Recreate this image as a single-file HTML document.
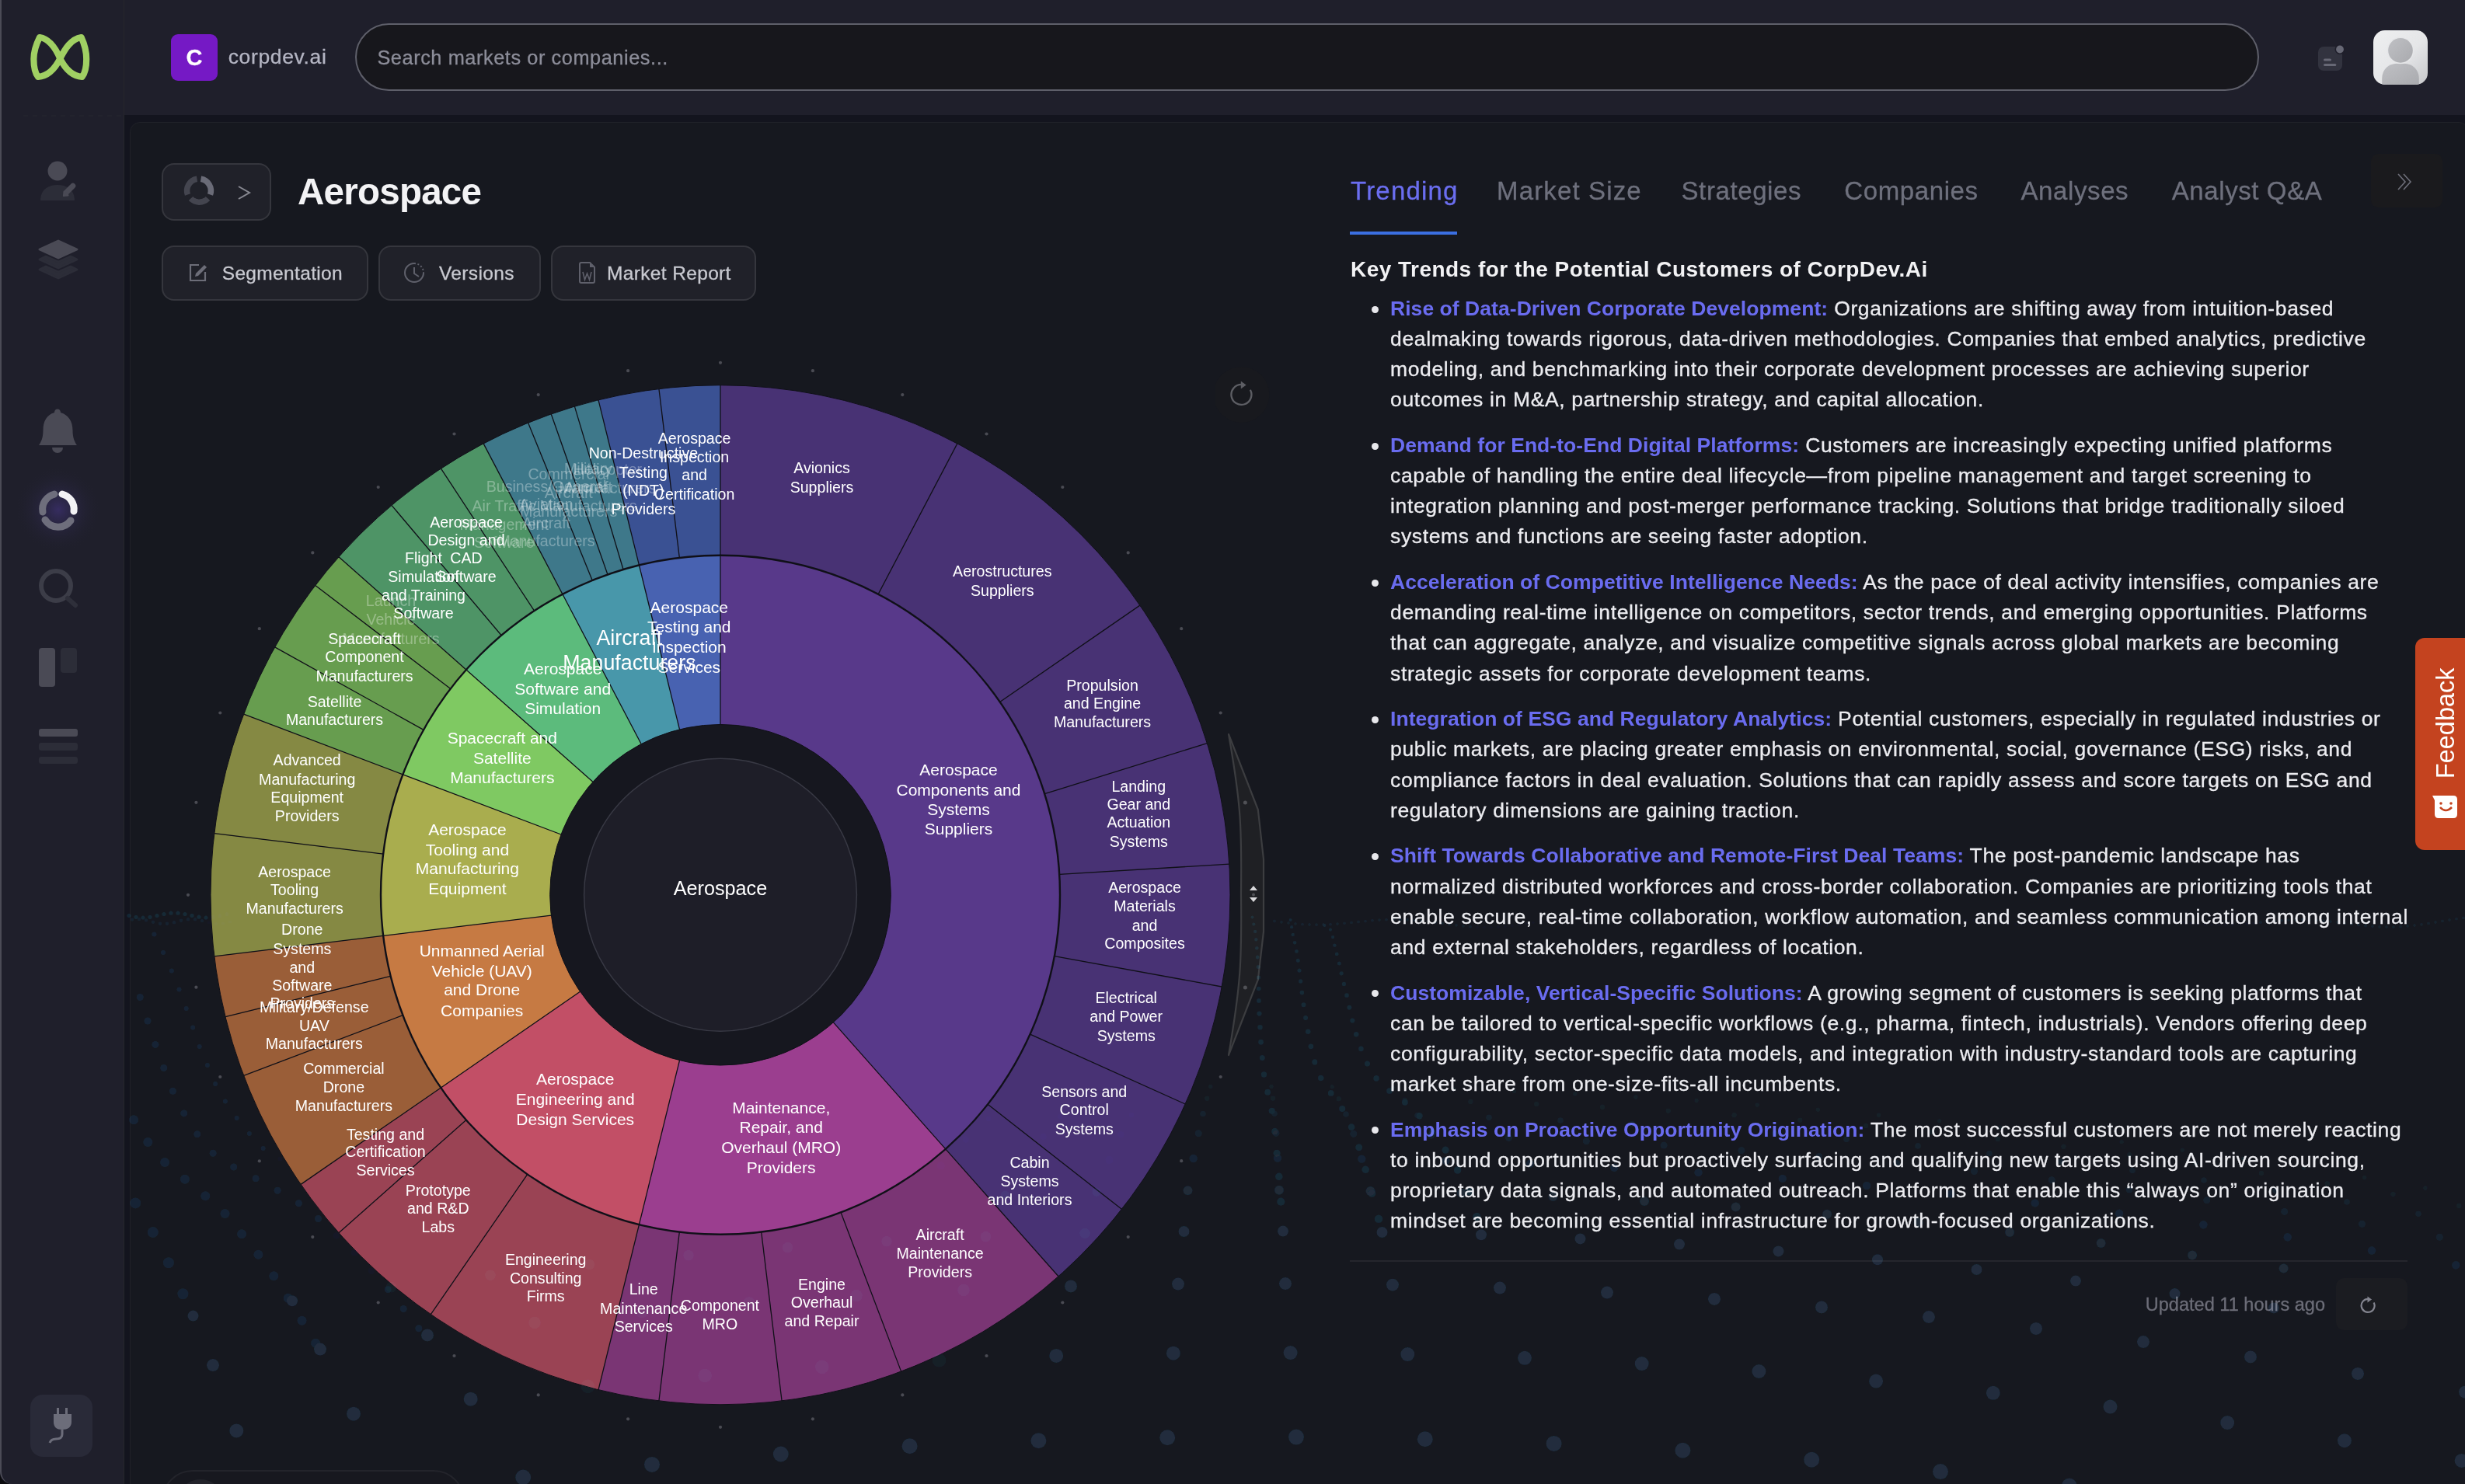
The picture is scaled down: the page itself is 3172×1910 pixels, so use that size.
<!DOCTYPE html><html><head><meta charset="utf-8"><style>*{box-sizing:border-box;margin:0;padding:0}
html,body{width:3172px;height:1910px;overflow:hidden;background:#0b0b0f}
body{position:relative;font-family:"Liberation Sans",sans-serif}
.abs{position:absolute}
.t{position:absolute;white-space:nowrap;-webkit-text-stroke:0.3px currentColor}
</style></head><body><div class="abs" style="left:0;top:0;width:3172px;height:1910px;background:#13141e;border-radius:0 0 0 14px"></div><div class="abs" style="left:0;top:0;width:160px;height:1910px;background:#1f1f2b;border-left:2px solid #4b4b56;border-right:1px solid #25272c;border-radius:0 0 0 16px"></div><div class="abs" style="left:160px;top:0;width:3012px;height:148px;background:#1f1f2b"></div><div class="abs" style="left:167px;top:157px;width:3010px;height:1800px;background:#16181f;border:1.5px solid #202128;border-radius:13px"></div><svg class="abs" style="left:0;top:0" width="160" height="1910">
<path d="M77.3,75.4 C72,63 64,50 51,48 C45,60 43.4,68 43.4,76 C43.4,86 45,94 49,99 C62,98 71,88 77.3,75.4 C83.6,63 91.6,50 104.6,48 C110.2,60 111.2,68 111.2,76 C111.2,86 109.6,94 105.6,99 C92.6,98 83.6,88 77.3,75.4 Z" fill="none" stroke="#a0d063" stroke-width="8.2" stroke-linejoin="round"/>
<line x1="30" y1="149" x2="160" y2="149" stroke="#25262f" stroke-width="1.5" stroke-dasharray="6 6"/>
<circle cx="74" cy="220" r="12.5" fill="#4a4a55"/>
<path d="M52,258 C52,244 62,238 74,238 C86,238 96,244 96,258 Z" fill="#2c2d38"/>
<line x1="85.5" y1="247.5" x2="93.8" y2="239.2" stroke="#4a4a55" stroke-width="7" stroke-linecap="round"/><path d="M82,252 L82.6,246.5 L87.5,251.3 Z" fill="#4a4a55" stroke="#4a4a55" stroke-width="2.2" stroke-linejoin="round"/>
<path d="M75,310 L99,321 L75,332 L51,321 Z" fill="#4a4a55" stroke="#4a4a55" stroke-width="3" stroke-linejoin="round"/>
<path d="M51,334 L75,345 L99,334 L91,330 L75,337 L59,330 Z" fill="#2c2d38" stroke="#2c2d38" stroke-width="3" stroke-linejoin="round"/>
<path d="M51,347 L75,358 L99,347 L91,343 L75,350 L59,343 Z" fill="#2c2d38" stroke="#2c2d38" stroke-width="3" stroke-linejoin="round"/>
<path d="M74,526.5 C71.5,526.5 70,528.5 70,531 C60,534 55.5,542 55.5,554 C55.5,563 53,569 50,573 L99,573 C96,569 93.5,563 93.5,554 C93.5,542 88,534 78,531 C78,528.5 76.5,526.5 74,526.5 Z" fill="#4a4a55"/>
<path d="M67,576 A7,7 0 0 0 81,576 Z" fill="#4a4a55"/>
<radialGradient id="glow" cx="50%" cy="50%" r="50%"><stop offset="0" stop-color="#3a2f6a" stop-opacity="0.85"/><stop offset="0.45" stop-color="#2c2848" stop-opacity="0.5"/><stop offset="1" stop-color="#1f1f2b" stop-opacity="0"/></radialGradient>
<circle cx="75" cy="656" r="56" fill="url(#glow)"/>
<g fill="none" stroke-width="9" stroke-linecap="round">
<path d="M80,636 A20,20 0 0 1 95,658" stroke="#f2f2f4"/>
<path d="M91,670 A20,20 0 0 1 58,669" stroke="#6e6e7c"/>
<path d="M55,659 A20,20 0 0 1 70,636" stroke="#6e6e7c"/>
</g>
<circle cx="72" cy="754" r="19" fill="none" stroke="#3c3d48" stroke-width="6"/>
<line x1="87" y1="770" x2="97" y2="779" stroke="#2e2f3a" stroke-width="6" stroke-linecap="round"/>
<rect x="50" y="834" width="21" height="50" rx="4" fill="#4a4a55"/>
<rect x="78" y="834" width="21" height="32" rx="4" fill="#2c2d38"/>
<rect x="50" y="938" width="50" height="10" rx="3" fill="#4a4a55"/>
<rect x="50" y="956" width="50" height="10" rx="3" fill="#2c2d38"/>
<rect x="50" y="974" width="50" height="9" rx="3" fill="#2c2d38"/>
<rect x="39" y="1795" width="80" height="80" rx="16" fill="#292a38"/>
<g fill="#6c6d7a"><rect x="73" y="1812" width="3" height="10"/><rect x="84" y="1812" width="3" height="10"/>
<path d="M69,1820 L92,1820 L92,1830 C92,1837 87,1840 80,1840 C73,1840 69,1837 69,1830 Z"/></g>
<path d="M80,1840 L80,1846 C80,1851 76,1852 72,1852 C67,1852 65,1854 64,1857" fill="none" stroke="#6c6d7a" stroke-width="3"/>
</svg><div class="abs" style="left:220px;top:44px;width:60px;height:60px;background:#7519c5;border-radius:9px"></div><div class="t" style="left:-750.0px;width:2000px;text-align:center;top:55.90px;font-size:29px;line-height:37.7px;color:#ffffff;font-weight:700;letter-spacing:0px;">C</div><div class="t" style="left:293.7px;top:55.59px;font-size:26.5px;line-height:34.45px;color:#b4b5c3;font-weight:400;letter-spacing:0.65px;">corpdev.ai</div><div class="abs" style="left:457px;top:30px;width:2450px;height:87px;background:#17171c;border:2px solid #5e5f6a;border-radius:44px"></div><div class="t" style="left:485.4px;top:57.79px;font-size:25.3px;line-height:32.89px;color:#8c8d99;font-weight:400;letter-spacing:0.58px;">Search markets or companies...</div><svg class="abs" style="left:2975px;top:52px" width="50" height="50">
<rect x="8" y="8" width="31" height="31" rx="7" fill="#32333f"/>
<rect x="15" y="23.5" width="10" height="3" rx="1.5" fill="#676875"/><rect x="15" y="30" width="16.3" height="3" rx="1.5" fill="#676875"/>
<circle cx="36" cy="11.5" r="6.5" fill="#1f1f2b"/><circle cx="36" cy="11.5" r="4.9" fill="#676875"/>
</svg><svg class="abs" style="left:3054px;top:39px" width="70" height="70">
<defs><linearGradient id="av" x1="0" y1="0" x2="1" y2="1"><stop offset="0" stop-color="#eeeff0"/><stop offset="0.55" stop-color="#e5e6e8"/><stop offset="1" stop-color="#c6c7ca"/></linearGradient>
<linearGradient id="avb" x1="0" y1="0" x2="1" y2="1"><stop offset="0" stop-color="#bfc0c4"/><stop offset="1" stop-color="#a9aaae"/></linearGradient>
<clipPath id="avc"><rect x="0" y="0" width="70" height="70" rx="15"/></clipPath></defs>
<rect x="0" y="0" width="70" height="70" rx="15" fill="url(#av)"/>
<g clip-path="url(#avc)"><path d="M11.2,71 L11.2,62 C11.2,50 20,43 30,42.8 L40,42.8 C50,43 58.8,50 58.8,62 L58.8,71 Z" fill="url(#avb)"/>
<circle cx="35" cy="25.9" r="17.3" fill="#e6e7e9"/><circle cx="35" cy="25.9" r="15.8" fill="url(#avb)"/></g>
</svg><div class="abs" style="left:208px;top:210px;width:141px;height:74px;background:#202129;border:2px solid #35363d;border-radius:16px"></div><svg class="abs" style="left:230px;top:220px" width="60" height="55"><g fill="none" stroke-width="7.5">
<path d="M28.5,10.3 A15.3,15.3 0 0 1 40.5,30.5" stroke="#6a6b77"/>
<path d="M37.5,35.5 A15.3,15.3 0 0 1 15.5,35.5" stroke="#44454f"/>
<path d="M11.5,30.5 A15.3,15.3 0 0 1 23.5,10.3" stroke="#44454f"/>
</g></svg><svg class="abs" style="left:300px;top:236px" width="30" height="26"><path d="M7,4 L21,12 L7,20" fill="none" stroke="#888992" stroke-width="2"/></svg><div class="t" style="left:383.0px;top:215.57px;font-size:47.5px;line-height:61.75px;color:#f3f3f5;font-weight:700;letter-spacing:-0.75px;-webkit-text-stroke:0;">Aerospace</div><div class="abs" style="left:208px;top:316px;width:266px;height:71px;background:#202129;border:2px solid #35363d;border-radius:16px"></div><div class="t" style="left:285.7px;top:335.79px;font-size:24.5px;line-height:31.85px;color:#c8c9d0;font-weight:400;letter-spacing:0.35px;">Segmentation</div><div class="abs" style="left:487px;top:316px;width:209px;height:71px;background:#202129;border:2px solid #35363d;border-radius:16px"></div><div class="t" style="left:565.0px;top:335.79px;font-size:24.5px;line-height:31.85px;color:#c8c9d0;font-weight:400;letter-spacing:0.35px;">Versions</div><div class="abs" style="left:709px;top:316px;width:264px;height:71px;background:#202129;border:2px solid #35363d;border-radius:16px"></div><div class="t" style="left:781.0px;top:335.79px;font-size:24.5px;line-height:31.85px;color:#c8c9d0;font-weight:400;letter-spacing:0.35px;">Market Report</div><svg class="abs" style="left:240px;top:335px" width="30" height="30"><path d="M16,6 L5,6 L5,26 L24,26 L24,15" fill="none" stroke="#6c6d78" stroke-width="2.2"/>
<path d="M11,21 L12,17 L23,6 L26,9 L15,20 Z" fill="#6c6d78"/></svg><svg class="abs" style="left:518px;top:336px" width="32" height="30"><path d="M15,3 A12,12 0 1 0 27,15" fill="none" stroke="#5f606b" stroke-width="2"/>
<path d="M15,3 A12,12 0 0 1 27,15" fill="none" stroke="#5f606b" stroke-width="2" stroke-dasharray="2 2.5"/>
<path d="M15,8 L15,16 L21,20" fill="none" stroke="#5f606b" stroke-width="2"/></svg><svg class="abs" style="left:743px;top:336px" width="26" height="30"><path d="M5,2 L16,2 L22,8 L22,26 Q22,28 20,28 L5,28 Q3,28 3,26 L3,4 Q3,2 5,2 Z" fill="none" stroke="#5f606b" stroke-width="2"/>
<path d="M16,2 L22,8 L16,8 Z" fill="#5f606b"/><path d="M7,14 L9.5,24 L12.5,16 L15.5,24 L18,14" fill="none" stroke="#5f606b" stroke-width="1.6"/></svg><svg class="abs" style="left:200px;top:440px" width="1500" height="1470" viewBox="200 440 1500 1470"><circle cx="927.0" cy="1151.75" r="219.3" fill="#16171f"/><path d="M927.00,714.75A437.0,437.0 0 0 1 1216.78,1478.85L1072.42,1315.90A219.3,219.3 0 0 0 927.00,932.45Z" fill="#58398a"/><path d="M927.00,495.75A656.0,656.0 0 0 1 1231.86,570.89L1130.08,764.81A437.0,437.0 0 0 0 927.00,714.75Z" fill="#483274"/><path d="M1231.86,570.89A656.0,656.0 0 0 1 1466.88,779.10L1286.64,903.51A437.0,437.0 0 0 0 1130.08,764.81Z" fill="#483274"/><path d="M1466.88,779.10A656.0,656.0 0 0 1 1553.30,956.59L1344.21,1021.74A437.0,437.0 0 0 0 1286.64,903.51Z" fill="#483274"/><path d="M1553.30,956.59A656.0,656.0 0 0 1 1581.80,1112.14L1363.20,1125.36A437.0,437.0 0 0 0 1344.21,1021.74Z" fill="#483274"/><path d="M1581.80,1112.14A656.0,656.0 0 0 1 1572.25,1270.00L1356.84,1230.52A437.0,437.0 0 0 0 1363.20,1125.36Z" fill="#483274"/><path d="M1572.25,1270.00A656.0,656.0 0 0 1 1525.21,1420.98L1325.50,1331.10A437.0,437.0 0 0 0 1356.84,1230.52Z" fill="#483274"/><path d="M1525.21,1420.98A656.0,656.0 0 0 1 1443.39,1556.32L1271.00,1421.26A437.0,437.0 0 0 0 1325.50,1331.10Z" fill="#483274"/><path d="M1443.39,1556.32A656.0,656.0 0 0 1 1362.01,1642.77L1216.78,1478.85A437.0,437.0 0 0 0 1271.00,1421.26Z" fill="#483274"/><path d="M1216.78,1478.85A437.0,437.0 0 0 1 822.42,1576.05L874.52,1364.68A219.3,219.3 0 0 0 1072.42,1315.90Z" fill="#9b3e8f"/><path d="M1362.01,1642.77A656.0,656.0 0 0 1 1159.62,1765.12L1081.96,1560.35A437.0,437.0 0 0 0 1216.78,1478.85Z" fill="#7a3574"/><path d="M1159.62,1765.12A656.0,656.0 0 0 1 1006.07,1802.97L979.67,1585.56A437.0,437.0 0 0 0 1081.96,1560.35Z" fill="#7a3574"/><path d="M1006.07,1802.97A656.0,656.0 0 0 1 847.93,1802.97L874.33,1585.56A437.0,437.0 0 0 0 979.67,1585.56Z" fill="#7a3574"/><path d="M847.93,1802.97A656.0,656.0 0 0 1 770.01,1788.69L822.42,1576.05A437.0,437.0 0 0 0 874.33,1585.56Z" fill="#7a3574"/><path d="M822.42,1576.05A437.0,437.0 0 0 1 567.36,1399.99L746.52,1276.33A219.3,219.3 0 0 0 874.52,1364.68Z" fill="#c24f66"/><path d="M770.01,1788.69A656.0,656.0 0 0 1 554.35,1691.63L678.76,1511.39A437.0,437.0 0 0 0 822.42,1576.05Z" fill="#9a4354"/><path d="M554.35,1691.63A656.0,656.0 0 0 1 435.98,1586.76L599.90,1441.53A437.0,437.0 0 0 0 678.76,1511.39Z" fill="#9a4354"/><path d="M435.98,1586.76A656.0,656.0 0 0 1 387.12,1524.40L567.36,1399.99A437.0,437.0 0 0 0 599.90,1441.53Z" fill="#9a4354"/><path d="M567.36,1399.99A437.0,437.0 0 0 1 493.19,1204.42L709.30,1178.18A219.3,219.3 0 0 0 746.52,1276.33Z" fill="#c67a43"/><path d="M387.12,1524.40A656.0,656.0 0 0 1 313.63,1384.37L518.40,1306.71A437.0,437.0 0 0 0 567.36,1399.99Z" fill="#9a5e38"/><path d="M313.63,1384.37A656.0,656.0 0 0 1 290.06,1308.74L502.70,1256.33A437.0,437.0 0 0 0 518.40,1306.71Z" fill="#9a5e38"/><path d="M290.06,1308.74A656.0,656.0 0 0 1 275.78,1230.82L493.19,1204.42A437.0,437.0 0 0 0 502.70,1256.33Z" fill="#9a5e38"/><path d="M493.19,1204.42A437.0,437.0 0 0 1 518.40,996.79L721.95,1073.99A219.3,219.3 0 0 0 709.30,1178.18Z" fill="#a9ad4e"/><path d="M275.78,1230.82A656.0,656.0 0 0 1 275.78,1072.68L493.19,1099.08A437.0,437.0 0 0 0 493.19,1204.42Z" fill="#858943"/><path d="M275.78,1072.68A656.0,656.0 0 0 1 313.63,919.13L518.40,996.79A437.0,437.0 0 0 0 493.19,1099.08Z" fill="#858943"/><path d="M518.40,996.79A437.0,437.0 0 0 1 599.90,861.97L762.85,1006.33A219.3,219.3 0 0 0 721.95,1073.99Z" fill="#7fc962"/><path d="M313.63,919.13A656.0,656.0 0 0 1 353.68,832.94L545.08,939.38A437.0,437.0 0 0 0 518.40,996.79Z" fill="#679d4f"/><path d="M353.68,832.94A656.0,656.0 0 0 1 405.76,753.45L579.77,886.42A437.0,437.0 0 0 0 545.08,939.38Z" fill="#679d4f"/><path d="M405.76,753.45A656.0,656.0 0 0 1 435.98,716.74L599.90,861.97A437.0,437.0 0 0 0 579.77,886.42Z" fill="#679d4f"/><path d="M599.90,861.97A437.0,437.0 0 0 1 723.92,764.81L825.09,957.57A219.3,219.3 0 0 0 762.85,1006.33Z" fill="#5cbb7c"/><path d="M435.98,716.74A656.0,656.0 0 0 1 503.98,650.36L645.20,817.74A437.0,437.0 0 0 0 599.90,861.97Z" fill="#4e9466"/><path d="M503.98,650.36A656.0,656.0 0 0 1 567.50,603.03L687.52,786.21A437.0,437.0 0 0 0 645.20,817.74Z" fill="#4e9466"/><path d="M567.50,603.03A656.0,656.0 0 0 1 622.14,570.89L723.92,764.81A437.0,437.0 0 0 0 687.52,786.21Z" fill="#4e9466"/><path d="M723.92,764.81A437.0,437.0 0 0 1 822.42,727.45L874.52,938.82A219.3,219.3 0 0 0 825.09,957.57Z" fill="#4897aa"/><path d="M622.14,570.89A656.0,656.0 0 0 1 679.63,544.18L762.21,747.01A437.0,437.0 0 0 0 723.92,764.81Z" fill="#3e788a"/><path d="M679.63,544.18A656.0,656.0 0 0 1 709.27,532.94L781.96,739.52A437.0,437.0 0 0 0 762.21,747.01Z" fill="#3e788a"/><path d="M709.27,532.94A656.0,656.0 0 0 1 739.42,523.14L802.04,733.00A437.0,437.0 0 0 0 781.96,739.52Z" fill="#3e788a"/><path d="M739.42,523.14A656.0,656.0 0 0 1 770.01,514.81L822.42,727.45A437.0,437.0 0 0 0 802.04,733.00Z" fill="#3e788a"/><path d="M822.42,727.45A437.0,437.0 0 0 1 927.00,714.75L927.00,932.45A219.3,219.3 0 0 0 874.52,938.82Z" fill="#4862b1"/><path d="M770.01,514.81A656.0,656.0 0 0 1 847.93,500.53L874.33,717.94A437.0,437.0 0 0 0 822.42,727.45Z" fill="#3a5193"/><path d="M847.93,500.53A656.0,656.0 0 0 1 927.00,495.75L927.00,714.75A437.0,437.0 0 0 0 874.33,717.94Z" fill="#3a5193"/><line x1="927.00" y1="714.75" x2="927.00" y2="495.75" stroke="#101018" stroke-width="1.3"/><line x1="1130.08" y1="764.81" x2="1231.86" y2="570.89" stroke="#101018" stroke-width="1.3"/><line x1="1286.64" y1="903.51" x2="1466.88" y2="779.10" stroke="#101018" stroke-width="1.3"/><line x1="1344.21" y1="1021.74" x2="1553.30" y2="956.59" stroke="#101018" stroke-width="1.3"/><line x1="1363.20" y1="1125.36" x2="1581.80" y2="1112.14" stroke="#101018" stroke-width="1.3"/><line x1="1356.84" y1="1230.52" x2="1572.25" y2="1270.00" stroke="#101018" stroke-width="1.3"/><line x1="1325.50" y1="1331.10" x2="1525.21" y2="1420.98" stroke="#101018" stroke-width="1.3"/><line x1="1271.00" y1="1421.26" x2="1443.39" y2="1556.32" stroke="#101018" stroke-width="1.3"/><line x1="927.00" y1="932.45" x2="927.00" y2="714.75" stroke="#101018" stroke-width="1.3"/><line x1="1216.78" y1="1478.85" x2="1362.01" y2="1642.77" stroke="#101018" stroke-width="1.3"/><line x1="1081.96" y1="1560.35" x2="1159.62" y2="1765.12" stroke="#101018" stroke-width="1.3"/><line x1="979.67" y1="1585.56" x2="1006.07" y2="1802.97" stroke="#101018" stroke-width="1.3"/><line x1="874.33" y1="1585.56" x2="847.93" y2="1802.97" stroke="#101018" stroke-width="1.3"/><line x1="1072.42" y1="1315.90" x2="1216.78" y2="1478.85" stroke="#101018" stroke-width="1.3"/><line x1="822.42" y1="1576.05" x2="770.01" y2="1788.69" stroke="#101018" stroke-width="1.3"/><line x1="678.76" y1="1511.39" x2="554.35" y2="1691.63" stroke="#101018" stroke-width="1.3"/><line x1="599.90" y1="1441.53" x2="435.98" y2="1586.76" stroke="#101018" stroke-width="1.3"/><line x1="874.52" y1="1364.68" x2="822.42" y2="1576.05" stroke="#101018" stroke-width="1.3"/><line x1="567.36" y1="1399.99" x2="387.12" y2="1524.40" stroke="#101018" stroke-width="1.3"/><line x1="518.40" y1="1306.71" x2="313.63" y2="1384.37" stroke="#101018" stroke-width="1.3"/><line x1="502.70" y1="1256.33" x2="290.06" y2="1308.74" stroke="#101018" stroke-width="1.3"/><line x1="746.52" y1="1276.33" x2="567.36" y2="1399.99" stroke="#101018" stroke-width="1.3"/><line x1="493.19" y1="1204.42" x2="275.78" y2="1230.82" stroke="#101018" stroke-width="1.3"/><line x1="493.19" y1="1099.08" x2="275.78" y2="1072.68" stroke="#101018" stroke-width="1.3"/><line x1="709.30" y1="1178.18" x2="493.19" y2="1204.42" stroke="#101018" stroke-width="1.3"/><line x1="518.40" y1="996.79" x2="313.63" y2="919.13" stroke="#101018" stroke-width="1.3"/><line x1="545.08" y1="939.38" x2="353.68" y2="832.94" stroke="#101018" stroke-width="1.3"/><line x1="579.77" y1="886.42" x2="405.76" y2="753.45" stroke="#101018" stroke-width="1.3"/><line x1="721.95" y1="1073.99" x2="518.40" y2="996.79" stroke="#101018" stroke-width="1.3"/><line x1="599.90" y1="861.97" x2="435.98" y2="716.74" stroke="#101018" stroke-width="1.3"/><line x1="645.20" y1="817.74" x2="503.98" y2="650.36" stroke="#101018" stroke-width="1.3"/><line x1="687.52" y1="786.21" x2="567.50" y2="603.03" stroke="#101018" stroke-width="1.3"/><line x1="762.85" y1="1006.33" x2="599.90" y2="861.97" stroke="#101018" stroke-width="1.3"/><line x1="723.92" y1="764.81" x2="622.14" y2="570.89" stroke="#101018" stroke-width="1.3"/><line x1="762.21" y1="747.01" x2="679.63" y2="544.18" stroke="#101018" stroke-width="1.3"/><line x1="781.96" y1="739.52" x2="709.27" y2="532.94" stroke="#101018" stroke-width="1.3"/><line x1="802.04" y1="733.00" x2="739.42" y2="523.14" stroke="#101018" stroke-width="1.3"/><line x1="825.09" y1="957.57" x2="723.92" y2="764.81" stroke="#101018" stroke-width="1.3"/><line x1="822.42" y1="727.45" x2="770.01" y2="514.81" stroke="#101018" stroke-width="1.3"/><line x1="874.33" y1="717.94" x2="847.93" y2="500.53" stroke="#101018" stroke-width="1.3"/><line x1="874.52" y1="938.82" x2="822.42" y2="727.45" stroke="#101018" stroke-width="1.3"/><circle cx="927.0" cy="1151.75" r="437.0" fill="none" stroke="#101018" stroke-width="2.4"/><circle cx="927.0" cy="1151.75" r="656.0" fill="none" stroke="#101018" stroke-width="1"/><circle cx="927.0" cy="1151.75" r="219.3" fill="none" stroke="#101018" stroke-width="1"/><circle cx="927.0" cy="1151.75" r="175.4" fill="#1e1e28" stroke="#383944" stroke-width="1.5"/><circle cx="927.0" cy="466.8" r="2.1" fill="#4a4b53"/><circle cx="1045.9" cy="477.2" r="2.1" fill="#4a4b53"/><circle cx="1161.3" cy="508.1" r="2.1" fill="#4a4b53"/><circle cx="1269.5" cy="558.5" r="2.1" fill="#4a4b53"/><circle cx="1367.3" cy="627.0" r="2.1" fill="#4a4b53"/><circle cx="1451.7" cy="711.4" r="2.1" fill="#4a4b53"/><circle cx="1520.2" cy="809.2" r="2.1" fill="#4a4b53"/><circle cx="1570.7" cy="917.5" r="2.1" fill="#4a4b53"/><circle cx="1570.7" cy="1386.0" r="2.1" fill="#4a4b53"/><circle cx="1520.2" cy="1494.2" r="2.1" fill="#4a4b53"/><circle cx="1451.7" cy="1592.1" r="2.1" fill="#4a4b53"/><circle cx="1367.3" cy="1676.5" r="2.1" fill="#4a4b53"/><circle cx="1269.5" cy="1745.0" r="2.1" fill="#4a4b53"/><circle cx="1161.3" cy="1795.4" r="2.1" fill="#4a4b53"/><circle cx="1045.9" cy="1826.3" r="2.1" fill="#4a4b53"/><circle cx="927.0" cy="1836.8" r="2.1" fill="#4a4b53"/><circle cx="808.1" cy="1826.3" r="2.1" fill="#4a4b53"/><circle cx="692.7" cy="1795.4" r="2.1" fill="#4a4b53"/><circle cx="584.5" cy="1745.0" r="2.1" fill="#4a4b53"/><circle cx="486.7" cy="1676.5" r="2.1" fill="#4a4b53"/><circle cx="402.3" cy="1592.1" r="2.1" fill="#4a4b53"/><circle cx="333.8" cy="1494.3" r="2.1" fill="#4a4b53"/><circle cx="283.3" cy="1386.0" r="2.1" fill="#4a4b53"/><circle cx="252.4" cy="1270.7" r="2.1" fill="#4a4b53"/><circle cx="242.0" cy="1151.8" r="2.1" fill="#4a4b53"/><circle cx="252.4" cy="1032.8" r="2.1" fill="#4a4b53"/><circle cx="283.3" cy="917.5" r="2.1" fill="#4a4b53"/><circle cx="333.8" cy="809.2" r="2.1" fill="#4a4b53"/><circle cx="402.3" cy="711.4" r="2.1" fill="#4a4b53"/><circle cx="486.7" cy="627.0" r="2.1" fill="#4a4b53"/><circle cx="584.5" cy="558.5" r="2.1" fill="#4a4b53"/><circle cx="692.7" cy="508.1" r="2.1" fill="#4a4b53"/><circle cx="808.1" cy="477.2" r="2.1" fill="#4a4b53"/><g font-family="Liberation Sans, sans-serif" text-anchor="middle"><g font-size="19.6" fill="#ffffff" fill-opacity="0.32"><text x="503.0" y="780.4">Launch</text><text x="503.0" y="804.2">Vehicle</text><text x="503.0" y="828.5">Manufacturers</text></g><g font-size="19.6" fill="#ffffff" fill-opacity="0.32"><text x="648.7" y="658.1">Air Traffic</text><text x="648.7" y="681.6">Management</text><text x="648.7" y="705.2">Software</text></g><g font-size="19.6" fill="#ffffff" fill-opacity="0.32"><text x="703.0" y="632.6">Business/General</text><text x="703.0" y="656.1">Aviation</text><text x="703.0" y="679.7">Aircraft</text><text x="703.0" y="703.3">Manufacturers</text></g><g font-size="19.6" fill="#ffffff" fill-opacity="0.32"><text x="731.7" y="617.3">Commercial</text><text x="731.7" y="640.9">Aircraft</text><text x="731.7" y="664.5">Manufacturers</text></g><g font-size="19.6" fill="#ffffff" fill-opacity="0.32"><text x="757.0" y="609.7">Military</text><text x="757.0" y="633.6">Aircraft</text><text x="757.0" y="657.6">Manufacturers</text></g><g font-size="19.6" fill="#ffffff" fill-opacity="0.32"><text x="782.0" y="611.1">Helicopter</text><text x="782.0" y="635.1">Manufacturers</text></g><g font-size="19.6" fill="#ffffff"><text x="1057.5" y="609.4">Avionics</text><text x="1057.5" y="633.7">Suppliers</text></g><g font-size="19.6" fill="#ffffff"><text x="1289.8" y="742.3">Aerostructures</text><text x="1289.8" y="766.6">Suppliers</text></g><g font-size="19.6" fill="#ffffff"><text x="1418.5" y="889.4">Propulsion</text><text x="1418.5" y="912.3">and Engine</text><text x="1418.5" y="936.1">Manufacturers</text></g><g font-size="19.6" fill="#ffffff"><text x="1465.3" y="1018.6">Landing</text><text x="1465.3" y="1041.5">Gear and</text><text x="1465.3" y="1065.4">Actuation</text><text x="1465.3" y="1089.6">Systems</text></g><g font-size="19.6" fill="#ffffff"><text x="1473.0" y="1149.4">Aerospace</text><text x="1473.0" y="1173.2">Materials</text><text x="1473.0" y="1197.5">and</text><text x="1473.0" y="1221.3">Composites</text></g><g font-size="19.6" fill="#ffffff"><text x="1449.2" y="1291.4">Electrical</text><text x="1449.2" y="1315.3">and Power</text><text x="1449.2" y="1339.5">Systems</text></g><g font-size="19.6" fill="#ffffff"><text x="1395.2" y="1411.5">Sensors and</text><text x="1395.2" y="1435.3">Control</text><text x="1395.2" y="1459.6">Systems</text></g><g font-size="19.6" fill="#ffffff"><text x="1325.0" y="1503.1">Cabin</text><text x="1325.0" y="1527.4">Systems</text><text x="1325.0" y="1551.2">and Interiors</text></g><g font-size="19.6" fill="#ffffff"><text x="1209.6" y="1596.1">Aircraft</text><text x="1209.6" y="1620.4">Maintenance</text><text x="1209.6" y="1644.3">Providers</text></g><g font-size="19.6" fill="#ffffff"><text x="1057.5" y="1660.3">Engine</text><text x="1057.5" y="1683.2">Overhaul</text><text x="1057.5" y="1707.1">and Repair</text></g><g font-size="19.6" fill="#ffffff"><text x="926.4" y="1687.3">Component</text><text x="926.4" y="1710.9">MRO</text></g><g font-size="19.6" fill="#ffffff"><text x="828.2" y="1666.3">Line</text><text x="828.2" y="1690.5">Maintenance</text><text x="828.2" y="1714.4">Services</text></g><g font-size="19.6" fill="#ffffff"><text x="702.2" y="1627.8">Engineering</text><text x="702.2" y="1651.6">Consulting</text><text x="702.2" y="1675.4">Firms</text></g><g font-size="19.6" fill="#ffffff"><text x="563.8" y="1538.9">Prototype</text><text x="563.8" y="1562.2">and R&amp;D</text><text x="563.8" y="1585.6">Labs</text></g><g font-size="19.6" fill="#ffffff"><text x="496.0" y="1466.5">Testing and</text><text x="496.0" y="1489.4">Certification</text><text x="496.0" y="1513.2">Services</text></g><g font-size="19.6" fill="#ffffff"><text x="442.4" y="1382.2">Commercial</text><text x="442.4" y="1406.4">Drone</text><text x="442.4" y="1430.3">Manufacturers</text></g><g font-size="19.6" fill="#ffffff"><text x="404.3" y="1303.3">Military/Defense</text><text x="404.3" y="1327.2">UAV</text><text x="404.3" y="1350.1">Manufacturers</text></g><g font-size="19.6" fill="#ffffff"><text x="388.8" y="1203.0">Drone</text><text x="388.8" y="1227.7">Systems</text><text x="388.8" y="1251.6">and</text><text x="388.8" y="1274.5">Software</text><text x="388.8" y="1298.3">Providers</text></g><g font-size="19.6" fill="#ffffff"><text x="379.1" y="1128.6">Aerospace</text><text x="379.1" y="1152.4">Tooling</text><text x="379.1" y="1176.0">Manufacturers</text></g><g font-size="19.6" fill="#ffffff"><text x="395.2" y="985.2">Advanced</text><text x="395.2" y="1009.5">Manufacturing</text><text x="395.2" y="1033.3">Equipment</text><text x="395.2" y="1057.1">Providers</text></g><g font-size="19.6" fill="#ffffff"><text x="430.5" y="910.1">Satellite</text><text x="430.5" y="933.4">Manufacturers</text></g><g font-size="19.6" fill="#ffffff"><text x="469.0" y="828.5">Spacecraft</text><text x="469.0" y="852.3">Component</text><text x="469.0" y="876.6">Manufacturers</text></g><g font-size="19.6" fill="#ffffff"><text x="545.0" y="725.4">Flight</text><text x="545.0" y="749.2">Simulation</text><text x="545.0" y="772.6">and Training</text><text x="545.0" y="796.4">Software</text></g><g font-size="19.6" fill="#ffffff"><text x="600.0" y="678.6">Aerospace</text><text x="600.0" y="702.0">Design and</text><text x="600.0" y="725.4">CAD</text><text x="600.0" y="749.2">Software</text></g><g font-size="19.6" fill="#ffffff"><text x="827.9" y="590.1">Non-Destructive</text><text x="827.9" y="614.6">Testing</text><text x="827.9" y="638.2">(NDT)</text><text x="827.9" y="661.8">Providers</text></g><g font-size="19.6" fill="#ffffff"><text x="893.6" y="571.3">Aerospace</text><text x="893.6" y="594.8">Inspection</text><text x="893.6" y="618.4">and</text><text x="893.6" y="642.6">Certification</text></g><g font-size="21" fill="#ffffff"><text x="1233.5" y="997.6">Aerospace</text><text x="1233.5" y="1023.6">Components and</text><text x="1233.5" y="1048.6">Systems</text><text x="1233.5" y="1074.2">Suppliers</text></g><g font-size="21" fill="#ffffff"><text x="1005.2" y="1432.6">Maintenance,</text><text x="1005.2" y="1458.3">Repair, and</text><text x="1005.2" y="1483.9">Overhaul (MRO)</text><text x="1005.2" y="1509.6">Providers</text></g><g font-size="21" fill="#ffffff"><text x="740.2" y="1396.4">Aerospace</text><text x="740.2" y="1422.1">Engineering and</text><text x="740.2" y="1447.7">Design Services</text></g><g font-size="21" fill="#ffffff"><text x="620.2" y="1230.5">Unmanned Aerial</text><text x="620.2" y="1256.6">Vehicle (UAV)</text><text x="620.2" y="1281.4">and Drone</text><text x="620.2" y="1307.5">Companies</text></g><g font-size="21" fill="#ffffff"><text x="601.4" y="1075.0">Aerospace</text><text x="601.4" y="1100.7">Tooling and</text><text x="601.4" y="1125.4">Manufacturing</text><text x="601.4" y="1151.1">Equipment</text></g><g font-size="21" fill="#ffffff"><text x="646.3" y="957.3">Spacecraft and</text><text x="646.3" y="982.5">Satellite</text><text x="646.3" y="1008.1">Manufacturers</text></g><g font-size="21" fill="#ffffff"><text x="724.2" y="867.9">Aerospace</text><text x="724.2" y="894.0">Software and</text><text x="724.2" y="919.2">Simulation</text></g><g font-size="21" fill="#ffffff"><text x="886.8" y="788.6">Aerospace</text><text x="886.8" y="814.3">Testing and</text><text x="886.8" y="839.5">Inspection</text><text x="886.8" y="865.6">Services</text></g><g font-size="26.8" fill="#ffffff"><text x="809.9" y="829.6">Aircraft</text><text x="809.9" y="861.7">Manufacturers</text></g><g font-size="25.2" fill="#ffffff"><text x="927.0" y="1152.1">Aerospace</text></g></g></svg><svg class="abs" style="left:1563.6px;top:469.9px" width="88" height="76" viewBox="1563.6 469.9 88 76"><circle cx="1597" cy="507.8" r="36" fill="#18191e"/><path d="M1597.00,494.80 A13,13 0 1 0 1608.48,501.70" fill="none" stroke="#5d5e64" stroke-width="2.3"/><path d="M1596.40,490.50 L1603.20,495.40 L1596.40,500.30 Z" fill="#5d5e64"/></svg><svg class="abs" style="left:1570px;top:935px" width="70" height="435">
<path d="M11,10 L48.8,107 L56,171 L56,264 L48.8,326 L11,423 C27,330 28,300 27,216 C28,130 27,100 11,10 Z" fill="#1f2024" stroke="#3c3d40" stroke-width="2.2" stroke-linejoin="round"/>
<circle cx="32.4" cy="98" r="2.5" fill="#505156"/><circle cx="32.4" cy="336" r="2.5" fill="#505156"/>
<path d="M38,211 L43,205 L48,211 Z M38,220 L43,226 L48,220 Z" fill="#d8d8da"/><circle cx="43" cy="216.5" r="2" fill="#505156"/>
</svg><div class="t" style="left:1738.0px;top:225.32px;font-size:33px;line-height:42.9px;color:#6b6ef0;font-weight:400;letter-spacing:1.2px;">Trending</div><div class="t" style="left:1926.0px;top:225.32px;font-size:33px;line-height:42.9px;color:#6e707d;font-weight:400;letter-spacing:1.15px;">Market Size</div><div class="t" style="left:2163.5px;top:225.32px;font-size:33px;line-height:42.9px;color:#6e707d;font-weight:400;letter-spacing:0.6px;">Strategies</div><div class="t" style="left:2373.3px;top:225.32px;font-size:33px;line-height:42.9px;color:#6e707d;font-weight:400;letter-spacing:0.6px;">Companies</div><div class="t" style="left:2600.5px;top:225.32px;font-size:33px;line-height:42.9px;color:#6e707d;font-weight:400;letter-spacing:0.6px;">Analyses</div><div class="t" style="left:2794.7px;top:225.32px;font-size:33px;line-height:42.9px;color:#6e707d;font-weight:400;letter-spacing:0.6px;">Analyst Q&amp;A</div><div class="abs" style="left:1737px;top:298px;width:138px;height:4px;background:#3b6fe2"></div><div class="abs" style="left:3051px;top:197.5px;width:92px;height:69px;background:#1a1a1d;border-radius:9px"></div><svg class="abs" style="left:3080px;top:221px" width="30" height="30"><path d="M6,3 L15,13 L6,23 M13,3 L22,13 L13,23" fill="none" stroke="#6e6f7a" stroke-width="1.6"/></svg><div class="t" style="left:1738.0px;top:329.10px;font-size:28px;line-height:36.4px;color:#f2f2f4;font-weight:700;letter-spacing:0.47px;-webkit-text-stroke:0;">Key Trends for the Potential Customers of CorpDev.Ai</div><div class="abs" style="left:1765px;top:393.5px;width:9px;height:9px;border-radius:50%;background:#e8e8ec"></div><div class="t" style="left:1789.0px;top:380.09px;font-size:26.5px;line-height:34.45px;color:#ececf0;font-weight:400;letter-spacing:0.64px;"><span style="color:#6a6cf0;font-weight:700;letter-spacing:0.05px;-webkit-text-stroke:0">Rise of Data-Driven Corporate Development:</span> Organizations are shifting away from intuition-based</div><div class="t" style="left:1789.0px;top:419.16px;font-size:26.5px;line-height:34.45px;color:#ececf0;font-weight:400;letter-spacing:0.64px;">dealmaking towards rigorous, data-driven methodologies. Companies that embed analytics, predictive</div><div class="t" style="left:1789.0px;top:458.23px;font-size:26.5px;line-height:34.45px;color:#ececf0;font-weight:400;letter-spacing:0.64px;">modeling, and benchmarking into their corporate development processes are achieving superior</div><div class="t" style="left:1789.0px;top:497.30px;font-size:26.5px;line-height:34.45px;color:#ececf0;font-weight:400;letter-spacing:0.64px;">outcomes in M&amp;A, partnership strategy, and capital allocation.</div><div class="abs" style="left:1765px;top:569.6px;width:9px;height:9px;border-radius:50%;background:#e8e8ec"></div><div class="t" style="left:1789.0px;top:556.19px;font-size:26.5px;line-height:34.45px;color:#ececf0;font-weight:400;letter-spacing:0.64px;"><span style="color:#6a6cf0;font-weight:700;letter-spacing:0.05px;-webkit-text-stroke:0">Demand for End-to-End Digital Platforms:</span> Customers are increasingly expecting unified platforms</div><div class="t" style="left:1789.0px;top:595.26px;font-size:26.5px;line-height:34.45px;color:#ececf0;font-weight:400;letter-spacing:0.64px;">capable of handling the entire deal lifecycle—from pipeline management and target screening to</div><div class="t" style="left:1789.0px;top:634.33px;font-size:26.5px;line-height:34.45px;color:#ececf0;font-weight:400;letter-spacing:0.64px;">integration planning and post-merger performance tracking. Solutions that bridge traditionally siloed</div><div class="t" style="left:1789.0px;top:673.40px;font-size:26.5px;line-height:34.45px;color:#ececf0;font-weight:400;letter-spacing:0.64px;">systems and functions are seeing faster adoption.</div><div class="abs" style="left:1765px;top:745.7px;width:9px;height:9px;border-radius:50%;background:#e8e8ec"></div><div class="t" style="left:1789.0px;top:732.29px;font-size:26.5px;line-height:34.45px;color:#ececf0;font-weight:400;letter-spacing:0.64px;"><span style="color:#6a6cf0;font-weight:700;letter-spacing:0.05px;-webkit-text-stroke:0">Acceleration of Competitive Intelligence Needs:</span> As the pace of deal activity intensifies, companies are</div><div class="t" style="left:1789.0px;top:771.36px;font-size:26.5px;line-height:34.45px;color:#ececf0;font-weight:400;letter-spacing:0.64px;">demanding real-time intelligence on competitors, sector trends, and emerging opportunities. Platforms</div><div class="t" style="left:1789.0px;top:810.43px;font-size:26.5px;line-height:34.45px;color:#ececf0;font-weight:400;letter-spacing:0.64px;">that can aggregate, analyze, and visualize competitive signals across global markets are becoming</div><div class="t" style="left:1789.0px;top:849.50px;font-size:26.5px;line-height:34.45px;color:#ececf0;font-weight:400;letter-spacing:0.64px;">strategic assets for corporate development teams.</div><div class="abs" style="left:1765px;top:921.8px;width:9px;height:9px;border-radius:50%;background:#e8e8ec"></div><div class="t" style="left:1789.0px;top:908.39px;font-size:26.5px;line-height:34.45px;color:#ececf0;font-weight:400;letter-spacing:0.64px;"><span style="color:#6a6cf0;font-weight:700;letter-spacing:0.05px;-webkit-text-stroke:0">Integration of ESG and Regulatory Analytics:</span> Potential customers, especially in regulated industries or</div><div class="t" style="left:1789.0px;top:947.46px;font-size:26.5px;line-height:34.45px;color:#ececf0;font-weight:400;letter-spacing:0.64px;">public markets, are placing greater emphasis on environmental, social, governance (ESG) risks, and</div><div class="t" style="left:1789.0px;top:986.53px;font-size:26.5px;line-height:34.45px;color:#ececf0;font-weight:400;letter-spacing:0.64px;">compliance factors in deal evaluation. Solutions that can rapidly assess and score targets on ESG and</div><div class="t" style="left:1789.0px;top:1025.60px;font-size:26.5px;line-height:34.45px;color:#ececf0;font-weight:400;letter-spacing:0.64px;">regulatory dimensions are gaining traction.</div><div class="abs" style="left:1765px;top:1097.9px;width:9px;height:9px;border-radius:50%;background:#e8e8ec"></div><div class="t" style="left:1789.0px;top:1084.49px;font-size:26.5px;line-height:34.45px;color:#ececf0;font-weight:400;letter-spacing:0.64px;"><span style="color:#6a6cf0;font-weight:700;letter-spacing:0.05px;-webkit-text-stroke:0">Shift Towards Collaborative and Remote-First Deal Teams:</span> The post-pandemic landscape has</div><div class="t" style="left:1789.0px;top:1123.56px;font-size:26.5px;line-height:34.45px;color:#ececf0;font-weight:400;letter-spacing:0.64px;">normalized distributed workforces and cross-border collaboration. Companies are prioritizing tools that</div><div class="t" style="left:1789.0px;top:1162.63px;font-size:26.5px;line-height:34.45px;color:#ececf0;font-weight:400;letter-spacing:0.64px;">enable secure, real-time collaboration, workflow automation, and seamless communication among internal</div><div class="t" style="left:1789.0px;top:1201.70px;font-size:26.5px;line-height:34.45px;color:#ececf0;font-weight:400;letter-spacing:0.64px;">and external stakeholders, regardless of location.</div><div class="abs" style="left:1765px;top:1274.0px;width:9px;height:9px;border-radius:50%;background:#e8e8ec"></div><div class="t" style="left:1789.0px;top:1260.59px;font-size:26.5px;line-height:34.45px;color:#ececf0;font-weight:400;letter-spacing:0.64px;"><span style="color:#6a6cf0;font-weight:700;letter-spacing:0.05px;-webkit-text-stroke:0">Customizable, Vertical-Specific Solutions:</span> A growing segment of customers is seeking platforms that</div><div class="t" style="left:1789.0px;top:1299.66px;font-size:26.5px;line-height:34.45px;color:#ececf0;font-weight:400;letter-spacing:0.64px;">can be tailored to vertical-specific workflows (e.g., pharma, fintech, industrials). Vendors offering deep</div><div class="t" style="left:1789.0px;top:1338.73px;font-size:26.5px;line-height:34.45px;color:#ececf0;font-weight:400;letter-spacing:0.64px;">configurability, sector-specific data models, and integration with industry-standard tools are capturing</div><div class="t" style="left:1789.0px;top:1377.80px;font-size:26.5px;line-height:34.45px;color:#ececf0;font-weight:400;letter-spacing:0.64px;">market share from one-size-fits-all incumbents.</div><div class="abs" style="left:1765px;top:1450.1px;width:9px;height:9px;border-radius:50%;background:#e8e8ec"></div><div class="t" style="left:1789.0px;top:1436.69px;font-size:26.5px;line-height:34.45px;color:#ececf0;font-weight:400;letter-spacing:0.64px;"><span style="color:#6a6cf0;font-weight:700;letter-spacing:0.05px;-webkit-text-stroke:0">Emphasis on Proactive Opportunity Origination:</span> The most successful customers are not merely reacting</div><div class="t" style="left:1789.0px;top:1475.76px;font-size:26.5px;line-height:34.45px;color:#ececf0;font-weight:400;letter-spacing:0.64px;">to inbound opportunities but proactively surfacing and qualifying new targets using AI-driven sourcing,</div><div class="t" style="left:1789.0px;top:1514.83px;font-size:26.5px;line-height:34.45px;color:#ececf0;font-weight:400;letter-spacing:0.64px;">proprietary data signals, and automated outreach. Platforms that enable this “always on” origination</div><div class="t" style="left:1789.0px;top:1553.90px;font-size:26.5px;line-height:34.45px;color:#ececf0;font-weight:400;letter-spacing:0.64px;">mindset are becoming essential infrastructure for growth-focused organizations.</div><div class="abs" style="left:1737px;top:1622px;width:1361px;height:2px;background:#25262d"></div><div class="t" style="left:992.0px;width:2000px;text-align:right;top:1663.58px;font-size:23.5px;line-height:30.55px;color:#6c6d78;font-weight:400;letter-spacing:0.02px;">Updated 11 hours ago</div><div class="abs" style="left:3006px;top:1645px;width:92px;height:67px;background:#1b1c21;border-radius:10px"></div><svg class="abs" style="left:3016.4px;top:1647.7px" width="75" height="65" viewBox="3016.4 1647.7 75 65"><path d="M3047.50,1671.60 A8.5,8.5 0 1 0 3055.01,1676.11" fill="none" stroke="#83848f" stroke-width="2.2"/><path d="M3046.90,1668.30 L3052.50,1672.20 L3046.90,1676.10 Z" fill="#83848f"/></svg><svg class="abs" style="left:0;top:0;mix-blend-mode:screen;pointer-events:none" width="3172" height="1910"><defs><filter id="dblur"><feGaussianBlur stdDeviation="0.6"/></filter></defs><g fill="rgb(8,22,33)" filter="url(#dblur)"><circle cx="507.4" cy="1921.3" r="10.0" fill-opacity="1.00"/><circle cx="673.2" cy="1901.5" r="10.0" fill-opacity="1.00"/><circle cx="839.0" cy="1884.9" r="10.0" fill-opacity="1.00"/><circle cx="1004.8" cy="1871.5" r="10.0" fill-opacity="1.00"/><circle cx="1170.6" cy="1861.2" r="10.0" fill-opacity="1.00"/><circle cx="1336.4" cy="1854.2" r="10.0" fill-opacity="1.00"/><circle cx="1502.2" cy="1850.3" r="10.0" fill-opacity="1.00"/><circle cx="1668.0" cy="1849.6" r="10.0" fill-opacity="1.00"/><circle cx="1833.8" cy="1852.2" r="10.0" fill-opacity="1.00"/><circle cx="1999.6" cy="1857.9" r="10.0" fill-opacity="1.00"/><circle cx="2165.4" cy="1866.8" r="10.0" fill-opacity="1.00"/><circle cx="2331.2" cy="1878.8" r="10.0" fill-opacity="1.00"/><circle cx="2497.0" cy="1894.1" r="10.0" fill-opacity="1.00"/><circle cx="2662.8" cy="1912.6" r="10.0" fill-opacity="1.00"/><circle cx="304.3" cy="1841.4" r="9.0" fill-opacity="1.00"/><circle cx="455.0" cy="1819.7" r="9.0" fill-opacity="1.00"/><circle cx="605.7" cy="1800.7" r="9.0" fill-opacity="1.00"/><circle cx="756.4" cy="1784.3" r="9.0" fill-opacity="0.30"/><circle cx="907.1" cy="1770.5" r="9.0" fill-opacity="0.30"/><circle cx="1057.8" cy="1759.3" r="9.0" fill-opacity="0.30"/><circle cx="1208.5" cy="1750.8" r="9.0" fill-opacity="0.30"/><circle cx="1359.2" cy="1744.9" r="9.0" fill-opacity="1.00"/><circle cx="1509.9" cy="1741.7" r="9.0" fill-opacity="1.00"/><circle cx="1660.6" cy="1741.1" r="9.0" fill-opacity="1.00"/><circle cx="1811.3" cy="1743.1" r="9.0" fill-opacity="1.00"/><circle cx="1962.0" cy="1747.8" r="9.0" fill-opacity="1.00"/><circle cx="2112.7" cy="1755.1" r="9.0" fill-opacity="1.00"/><circle cx="2263.4" cy="1765.0" r="9.0" fill-opacity="1.00"/><circle cx="2414.1" cy="1777.6" r="9.0" fill-opacity="1.00"/><circle cx="2564.8" cy="1792.8" r="9.0" fill-opacity="1.00"/><circle cx="2715.5" cy="1810.6" r="9.0" fill-opacity="1.00"/><circle cx="2866.2" cy="1831.1" r="9.0" fill-opacity="1.00"/><circle cx="3016.9" cy="1854.2" r="9.0" fill-opacity="1.00"/><circle cx="3167.6" cy="1879.9" r="9.0" fill-opacity="1.00"/><circle cx="274.0" cy="1757.1" r="8.0" fill-opacity="1.00"/><circle cx="412.0" cy="1736.6" r="8.0" fill-opacity="1.00"/><circle cx="550.0" cy="1718.4" r="8.0" fill-opacity="1.00"/><circle cx="688.0" cy="1702.4" r="8.0" fill-opacity="0.30"/><circle cx="826.0" cy="1688.6" r="8.0" fill-opacity="0.30"/><circle cx="964.0" cy="1677.0" r="8.0" fill-opacity="0.30"/><circle cx="1102.0" cy="1667.6" r="8.0" fill-opacity="0.30"/><circle cx="1240.0" cy="1660.4" r="8.0" fill-opacity="0.30"/><circle cx="1378.0" cy="1655.4" r="8.0" fill-opacity="1.00"/><circle cx="1516.0" cy="1652.6" r="8.0" fill-opacity="1.00"/><circle cx="1654.0" cy="1652.1" r="8.0" fill-opacity="1.00"/><circle cx="1792.0" cy="1653.7" r="8.0" fill-opacity="1.00"/><circle cx="1930.0" cy="1657.6" r="8.0" fill-opacity="1.00"/><circle cx="2068.0" cy="1663.6" r="8.0" fill-opacity="1.00"/><circle cx="2206.0" cy="1671.9" r="8.0" fill-opacity="1.00"/><circle cx="2344.0" cy="1682.4" r="8.0" fill-opacity="1.00"/><circle cx="2482.0" cy="1695.1" r="8.0" fill-opacity="1.00"/><circle cx="2620.0" cy="1710.0" r="8.0" fill-opacity="1.00"/><circle cx="2758.0" cy="1727.1" r="8.0" fill-opacity="1.00"/><circle cx="2896.0" cy="1746.4" r="8.0" fill-opacity="1.00"/><circle cx="3034.0" cy="1768.0" r="8.0" fill-opacity="1.00"/><circle cx="3172.0" cy="1791.7" r="8.0" fill-opacity="1.00"/><circle cx="248.5" cy="1693.6" r="7.0" fill-opacity="1.00"/><circle cx="376.0" cy="1674.3" r="7.0" fill-opacity="1.00"/><circle cx="503.5" cy="1656.8" r="7.0" fill-opacity="0.30"/><circle cx="631.0" cy="1641.2" r="7.0" fill-opacity="0.30"/><circle cx="758.5" cy="1627.5" r="7.0" fill-opacity="0.30"/><circle cx="886.0" cy="1615.7" r="7.0" fill-opacity="0.30"/><circle cx="1013.5" cy="1605.8" r="7.0" fill-opacity="0.30"/><circle cx="1141.0" cy="1597.8" r="7.0" fill-opacity="0.30"/><circle cx="1268.5" cy="1591.7" r="7.0" fill-opacity="0.30"/><circle cx="1396.0" cy="1587.4" r="7.0" fill-opacity="0.30"/><circle cx="1523.5" cy="1585.0" r="7.0" fill-opacity="1.00"/><circle cx="1651.0" cy="1584.6" r="7.0" fill-opacity="1.00"/><circle cx="1778.5" cy="1586.0" r="7.0" fill-opacity="1.00"/><circle cx="1906.0" cy="1589.2" r="7.0" fill-opacity="1.00"/><circle cx="2033.5" cy="1594.4" r="7.0" fill-opacity="1.00"/><circle cx="2161.0" cy="1601.5" r="7.0" fill-opacity="1.00"/><circle cx="2288.5" cy="1610.4" r="7.0" fill-opacity="1.00"/><circle cx="2416.0" cy="1621.2" r="7.0" fill-opacity="1.00"/><circle cx="2543.5" cy="1634.0" r="7.0" fill-opacity="1.00"/><circle cx="2671.0" cy="1648.6" r="7.0" fill-opacity="1.00"/><circle cx="2798.5" cy="1665.1" r="7.0" fill-opacity="1.00"/><circle cx="2926.0" cy="1683.4" r="7.0" fill-opacity="1.00"/><circle cx="1293.5" cy="1537.9" r="6.0" fill-opacity="0.26"/><circle cx="1411.0" cy="1534.3" r="6.0" fill-opacity="0.26"/><circle cx="1528.5" cy="1532.3" r="6.0" fill-opacity="0.87"/><circle cx="1646.0" cy="1531.8" r="6.0" fill-opacity="0.87"/><circle cx="1763.5" cy="1533.0" r="6.0" fill-opacity="0.87"/><circle cx="1881.0" cy="1535.7" r="6.0" fill-opacity="0.87"/><circle cx="1998.5" cy="1540.1" r="6.0" fill-opacity="0.87"/><circle cx="2116.0" cy="1546.0" r="6.0" fill-opacity="0.87"/><circle cx="2233.6" cy="1553.6" r="6.0" fill-opacity="0.87"/><circle cx="2351.1" cy="1562.8" r="6.0" fill-opacity="0.87"/><circle cx="2468.6" cy="1573.5" r="6.0" fill-opacity="0.87"/><circle cx="2586.1" cy="1585.9" r="6.0" fill-opacity="0.87"/><circle cx="2703.6" cy="1599.9" r="6.0" fill-opacity="0.87"/><circle cx="2821.1" cy="1615.4" r="6.0" fill-opacity="0.87"/><circle cx="2938.6" cy="1632.6" r="6.0" fill-opacity="0.87"/><circle cx="1210.8" cy="1500.3" r="5.2" fill-opacity="0.22"/><circle cx="1319.1" cy="1495.8" r="5.2" fill-opacity="0.22"/><circle cx="1427.4" cy="1492.7" r="5.2" fill-opacity="0.22"/><circle cx="1535.7" cy="1491.0" r="5.2" fill-opacity="0.74"/><circle cx="1644.0" cy="1490.6" r="5.2" fill-opacity="0.74"/><circle cx="1752.3" cy="1491.6" r="5.2" fill-opacity="0.74"/><circle cx="1860.6" cy="1493.9" r="5.2" fill-opacity="0.74"/><circle cx="1968.9" cy="1497.6" r="5.2" fill-opacity="0.74"/><circle cx="2077.2" cy="1502.7" r="5.2" fill-opacity="0.74"/><circle cx="2185.5" cy="1509.1" r="5.2" fill-opacity="0.74"/><circle cx="2293.8" cy="1516.9" r="5.2" fill-opacity="0.74"/><circle cx="2402.1" cy="1526.0" r="5.2" fill-opacity="0.74"/><circle cx="2510.4" cy="1536.6" r="5.2" fill-opacity="0.74"/><circle cx="2618.7" cy="1548.4" r="5.2" fill-opacity="0.74"/><circle cx="2727.1" cy="1561.7" r="5.2" fill-opacity="0.74"/><circle cx="2835.4" cy="1576.2" r="5.2" fill-opacity="0.74"/><circle cx="2943.7" cy="1592.2" r="5.2" fill-opacity="0.74"/><circle cx="3052.0" cy="1609.5" r="5.2" fill-opacity="0.74"/><circle cx="3160.3" cy="1628.2" r="5.2" fill-opacity="0.74"/><circle cx="1242.7" cy="1466.6" r="4.5" fill-opacity="0.18"/><circle cx="1342.5" cy="1462.8" r="4.5" fill-opacity="0.18"/><circle cx="1442.4" cy="1460.2" r="4.5" fill-opacity="0.18"/><circle cx="1542.2" cy="1458.7" r="4.5" fill-opacity="0.61"/><circle cx="1642.0" cy="1458.4" r="4.5" fill-opacity="0.61"/><circle cx="1741.8" cy="1459.2" r="4.5" fill-opacity="0.61"/><circle cx="1841.6" cy="1461.2" r="4.5" fill-opacity="0.61"/><circle cx="1941.5" cy="1464.4" r="4.5" fill-opacity="0.61"/><circle cx="2041.3" cy="1468.7" r="4.5" fill-opacity="0.61"/><circle cx="2141.1" cy="1474.1" r="4.5" fill-opacity="0.61"/><circle cx="2240.9" cy="1480.7" r="4.5" fill-opacity="0.61"/><circle cx="2340.7" cy="1488.5" r="4.5" fill-opacity="0.61"/><circle cx="2440.6" cy="1497.4" r="4.5" fill-opacity="0.61"/><circle cx="2540.4" cy="1507.5" r="4.5" fill-opacity="0.61"/><circle cx="2640.2" cy="1518.7" r="4.5" fill-opacity="0.61"/><circle cx="2740.0" cy="1531.1" r="4.5" fill-opacity="0.61"/><circle cx="2839.8" cy="1544.7" r="4.5" fill-opacity="0.61"/><circle cx="2939.7" cy="1559.4" r="4.5" fill-opacity="0.61"/><circle cx="3039.5" cy="1575.2" r="4.5" fill-opacity="0.61"/><circle cx="3139.3" cy="1592.3" r="4.5" fill-opacity="0.61"/><circle cx="1272.0" cy="1440.3" r="3.8" fill-opacity="0.14"/><circle cx="1364.0" cy="1437.0" r="3.8" fill-opacity="0.14"/><circle cx="1456.0" cy="1434.8" r="3.8" fill-opacity="0.14"/><circle cx="1548.0" cy="1433.5" r="3.8" fill-opacity="0.48"/><circle cx="1640.0" cy="1433.3" r="3.8" fill-opacity="0.48"/><circle cx="1732.0" cy="1434.0" r="3.8" fill-opacity="0.48"/><circle cx="1824.0" cy="1435.6" r="3.8" fill-opacity="0.48"/><circle cx="1916.0" cy="1438.3" r="3.8" fill-opacity="0.48"/><circle cx="2008.0" cy="1442.0" r="3.8" fill-opacity="0.48"/><circle cx="2100.0" cy="1446.6" r="3.8" fill-opacity="0.48"/><circle cx="2192.0" cy="1452.2" r="3.8" fill-opacity="0.48"/><circle cx="2284.0" cy="1458.8" r="3.8" fill-opacity="0.48"/><circle cx="2376.0" cy="1466.4" r="3.8" fill-opacity="0.48"/><circle cx="2468.0" cy="1474.9" r="3.8" fill-opacity="0.48"/><circle cx="2560.0" cy="1484.5" r="3.8" fill-opacity="0.48"/><circle cx="2652.0" cy="1495.0" r="3.8" fill-opacity="0.48"/><circle cx="2744.0" cy="1506.5" r="3.8" fill-opacity="0.48"/><circle cx="2836.0" cy="1519.0" r="3.8" fill-opacity="0.48"/><circle cx="2928.0" cy="1532.5" r="3.8" fill-opacity="0.48"/><circle cx="3020.0" cy="1546.9" r="3.8" fill-opacity="0.48"/><circle cx="3112.0" cy="1562.3" r="3.8" fill-opacity="0.48"/><circle cx="1214.0" cy="1423.1" r="3.3" fill-opacity="0.10"/><circle cx="1298.8" cy="1419.6" r="3.3" fill-opacity="0.10"/><circle cx="1383.6" cy="1416.8" r="3.3" fill-opacity="0.10"/><circle cx="1468.4" cy="1414.9" r="3.3" fill-opacity="0.10"/><circle cx="1553.2" cy="1413.8" r="3.3" fill-opacity="0.35"/><circle cx="1638.0" cy="1413.6" r="3.3" fill-opacity="0.35"/><circle cx="1722.8" cy="1414.2" r="3.3" fill-opacity="0.35"/><circle cx="1807.6" cy="1415.6" r="3.3" fill-opacity="0.35"/><circle cx="1892.4" cy="1417.9" r="3.3" fill-opacity="0.35"/><circle cx="1977.2" cy="1421.0" r="3.3" fill-opacity="0.35"/><circle cx="2062.0" cy="1424.9" r="3.3" fill-opacity="0.35"/><circle cx="2146.8" cy="1429.7" r="3.3" fill-opacity="0.35"/><circle cx="2231.6" cy="1435.3" r="3.3" fill-opacity="0.35"/><circle cx="2316.3" cy="1441.7" r="3.3" fill-opacity="0.35"/><circle cx="2401.1" cy="1449.0" r="3.3" fill-opacity="0.35"/><circle cx="2485.9" cy="1457.1" r="3.3" fill-opacity="0.35"/><circle cx="2570.7" cy="1466.0" r="3.3" fill-opacity="0.35"/><circle cx="2655.5" cy="1475.8" r="3.3" fill-opacity="0.35"/><circle cx="2740.3" cy="1486.4" r="3.3" fill-opacity="0.35"/><circle cx="2825.1" cy="1497.8" r="3.3" fill-opacity="0.35"/><circle cx="2909.9" cy="1510.1" r="3.3" fill-opacity="0.35"/><circle cx="2994.7" cy="1523.2" r="3.3" fill-opacity="0.35"/><circle cx="3079.5" cy="1537.1" r="3.3" fill-opacity="0.35"/><circle cx="3164.3" cy="1551.9" r="3.3" fill-opacity="0.35"/><circle cx="1245.2" cy="1406.4" r="2.8" fill-opacity="0.10"/><circle cx="1323.4" cy="1403.3" r="2.8" fill-opacity="0.10"/><circle cx="1401.5" cy="1401.0" r="2.8" fill-opacity="0.10"/><circle cx="1479.7" cy="1399.4" r="2.8" fill-opacity="0.10"/><circle cx="1557.8" cy="1398.5" r="2.8" fill-opacity="0.35"/><circle cx="1636.0" cy="1398.3" r="2.8" fill-opacity="0.35"/><circle cx="1714.2" cy="1398.8" r="2.8" fill-opacity="0.35"/><circle cx="1792.3" cy="1400.0" r="2.8" fill-opacity="0.35"/><circle cx="1870.5" cy="1401.9" r="2.8" fill-opacity="0.35"/><circle cx="1948.6" cy="1404.5" r="2.8" fill-opacity="0.35"/><circle cx="2026.8" cy="1407.8" r="2.8" fill-opacity="0.35"/><circle cx="2104.9" cy="1411.9" r="2.8" fill-opacity="0.35"/><circle cx="2183.1" cy="1416.6" r="2.8" fill-opacity="0.35"/><circle cx="2261.2" cy="1422.1" r="2.8" fill-opacity="0.35"/><circle cx="2339.4" cy="1428.3" r="2.8" fill-opacity="0.35"/><circle cx="2417.5" cy="1435.1" r="2.8" fill-opacity="0.35"/><circle cx="2495.7" cy="1442.7" r="2.8" fill-opacity="0.35"/><circle cx="2573.8" cy="1451.0" r="2.8" fill-opacity="0.35"/><circle cx="2652.0" cy="1460.0" r="2.8" fill-opacity="0.35"/><circle cx="2730.1" cy="1469.7" r="2.8" fill-opacity="0.35"/><circle cx="2808.3" cy="1480.1" r="2.8" fill-opacity="0.35"/><circle cx="2886.4" cy="1491.3" r="2.8" fill-opacity="0.35"/><circle cx="2964.6" cy="1503.1" r="2.8" fill-opacity="0.35"/><circle cx="3042.7" cy="1515.6" r="2.8" fill-opacity="0.35"/><circle cx="3120.9" cy="1528.9" r="2.8" fill-opacity="0.35"/><circle cx="198.4" cy="1202.6" r="3.0" fill-opacity="0.75"/><circle cx="210.0" cy="1225.9" r="3.0" fill-opacity="0.75"/><circle cx="220.8" cy="1249.5" r="3.0" fill-opacity="0.75"/><circle cx="230.5" cy="1273.6" r="3.0" fill-opacity="0.75"/><circle cx="239.7" cy="1297.9" r="3.0" fill-opacity="0.75"/><circle cx="248.2" cy="1322.5" r="3.0" fill-opacity="0.75"/><circle cx="256.7" cy="1347.1" r="3.0" fill-opacity="0.75"/><circle cx="266.9" cy="1371.0" r="3.0" fill-opacity="0.75"/><circle cx="277.1" cy="1394.9" r="3.0" fill-opacity="0.75"/><circle cx="289.9" cy="1417.4" r="3.0" fill-opacity="0.75"/><circle cx="304.6" cy="1438.9" r="3.0" fill-opacity="0.75"/><circle cx="320.8" cy="1459.0" r="3.0" fill-opacity="0.75"/><circle cx="338.6" cy="1478.0" r="3.0" fill-opacity="0.75"/><circle cx="360.2" cy="1491.8" r="3.0" fill-opacity="0.22"/><circle cx="180.2" cy="1283.5" r="4.5" fill-opacity="0.75"/><circle cx="190.0" cy="1314.0" r="4.5" fill-opacity="0.75"/><circle cx="199.9" cy="1344.4" r="4.5" fill-opacity="0.75"/><circle cx="210.7" cy="1374.5" r="4.5" fill-opacity="0.75"/><circle cx="222.4" cy="1404.3" r="4.5" fill-opacity="0.75"/><circle cx="236.7" cy="1432.9" r="4.5" fill-opacity="0.75"/><circle cx="253.8" cy="1459.8" r="4.5" fill-opacity="0.75"/><circle cx="274.1" cy="1484.2" r="4.5" fill-opacity="0.75"/><circle cx="300.7" cy="1502.0" r="4.5" fill-opacity="0.75"/><circle cx="329.1" cy="1516.7" r="4.5" fill-opacity="0.75"/><circle cx="357.1" cy="1532.2" r="4.5" fill-opacity="0.75"/><circle cx="384.4" cy="1548.8" r="4.5" fill-opacity="0.75"/><circle cx="409.5" cy="1568.5" r="4.5" fill-opacity="0.75"/><circle cx="432.8" cy="1590.4" r="4.5" fill-opacity="0.22"/><circle cx="456.1" cy="1612.3" r="4.5" fill-opacity="0.22"/><circle cx="477.9" cy="1635.7" r="4.5" fill-opacity="0.22"/><circle cx="499.3" cy="1659.5" r="4.5" fill-opacity="0.75"/><circle cx="519.2" cy="1684.5" r="4.5" fill-opacity="0.75"/><circle cx="538.9" cy="1709.7" r="4.5" fill-opacity="0.75"/><circle cx="172.1" cy="1441.2" r="6.0" fill-opacity="0.75"/><circle cx="190.3" cy="1469.9" r="6.0" fill-opacity="0.75"/><circle cx="212.1" cy="1495.9" r="6.0" fill-opacity="0.75"/><circle cx="237.9" cy="1517.8" r="6.0" fill-opacity="0.75"/><circle cx="264.3" cy="1539.2" r="6.0" fill-opacity="0.75"/><circle cx="289.5" cy="1562.0" r="6.0" fill-opacity="0.75"/><circle cx="311.1" cy="1588.2" r="6.0" fill-opacity="0.75"/><circle cx="332.4" cy="1614.7" r="6.0" fill-opacity="0.75"/><circle cx="352.3" cy="1642.2" r="6.0" fill-opacity="0.75"/><circle cx="370.7" cy="1670.8" r="6.0" fill-opacity="0.75"/><circle cx="388.5" cy="1699.8" r="6.0" fill-opacity="0.75"/><circle cx="406.1" cy="1728.8" r="6.0" fill-opacity="0.75"/><circle cx="174.2" cy="1548.4" r="7.0" fill-opacity="0.75"/><circle cx="196.8" cy="1586.1" r="7.0" fill-opacity="0.75"/><circle cx="216.9" cy="1625.2" r="7.0" fill-opacity="0.75"/><circle cx="235.4" cy="1665.2" r="7.0" fill-opacity="0.75"/><circle cx="1611.5" cy="1180.6" r="2.0" fill-opacity="0.80"/><circle cx="1613.3" cy="1189.5" r="2.1" fill-opacity="0.80"/><circle cx="1615.2" cy="1198.9" r="2.2" fill-opacity="0.80"/><circle cx="1616.3" cy="1209.2" r="2.2" fill-opacity="0.80"/><circle cx="1617.3" cy="1220.2" r="2.3" fill-opacity="0.80"/><circle cx="1618.2" cy="1232.0" r="2.4" fill-opacity="0.80"/><circle cx="1619.1" cy="1244.6" r="2.5" fill-opacity="0.80"/><circle cx="1619.5" cy="1258.1" r="2.7" fill-opacity="0.80"/><circle cx="1619.7" cy="1272.5" r="2.8" fill-opacity="0.80"/><circle cx="1619.9" cy="1288.0" r="2.9" fill-opacity="0.80"/><circle cx="1620.5" cy="1304.6" r="3.1" fill-opacity="0.80"/><circle cx="1621.5" cy="1322.3" r="3.2" fill-opacity="0.80"/><circle cx="1622.6" cy="1341.2" r="3.4" fill-opacity="0.80"/><circle cx="1624.3" cy="1361.4" r="3.5" fill-opacity="0.80"/><circle cx="1626.5" cy="1383.0" r="3.7" fill-opacity="0.80"/><circle cx="1631.2" cy="1405.7" r="3.9" fill-opacity="0.80"/><circle cx="1636.7" cy="1429.8" r="4.1" fill-opacity="0.80"/><circle cx="1640.4" cy="1456.1" r="4.3" fill-opacity="0.80"/><circle cx="1643.1" cy="1484.3" r="4.6" fill-opacity="0.80"/><circle cx="1645.8" cy="1514.4" r="4.8" fill-opacity="0.80"/><circle cx="1648.3" cy="1546.7" r="5.1" fill-opacity="0.80"/><circle cx="1660.6" cy="1184.0" r="2.0" fill-opacity="0.80"/><circle cx="1662.1" cy="1193.2" r="2.1" fill-opacity="0.80"/><circle cx="1663.7" cy="1202.9" r="2.2" fill-opacity="0.80"/><circle cx="1666.1" cy="1213.3" r="2.3" fill-opacity="0.80"/><circle cx="1668.4" cy="1224.4" r="2.4" fill-opacity="0.80"/><circle cx="1670.3" cy="1236.3" r="2.5" fill-opacity="0.80"/><circle cx="1672.0" cy="1249.1" r="2.6" fill-opacity="0.80"/><circle cx="1673.7" cy="1262.9" r="2.7" fill-opacity="0.80"/><circle cx="1675.4" cy="1277.6" r="2.8" fill-opacity="0.80"/><circle cx="1677.5" cy="1293.3" r="3.0" fill-opacity="0.80"/><circle cx="1680.1" cy="1310.0" r="3.1" fill-opacity="0.80"/><circle cx="1683.2" cy="1327.8" r="3.3" fill-opacity="0.80"/><circle cx="1686.9" cy="1346.8" r="3.4" fill-opacity="0.80"/><circle cx="1691.8" cy="1366.9" r="3.6" fill-opacity="0.80"/><circle cx="1699.7" cy="1387.5" r="3.8" fill-opacity="0.80"/><circle cx="1712.7" cy="1406.9" r="3.9" fill-opacity="0.80"/><circle cx="1727.2" cy="1427.1" r="4.1" fill-opacity="0.80"/><circle cx="1739.1" cy="1450.6" r="4.3" fill-opacity="0.80"/><circle cx="1748.7" cy="1476.7" r="4.5" fill-opacity="0.80"/><circle cx="1757.2" cy="1505.3" r="4.8" fill-opacity="0.80"/><circle cx="1765.4" cy="1535.9" r="5.0" fill-opacity="0.80"/><circle cx="1774.0" cy="1568.8" r="5.3" fill-opacity="0.80"/><circle cx="1704.4" cy="1191.1" r="2.1" fill-opacity="0.80"/><circle cx="1712.0" cy="1196.5" r="2.1" fill-opacity="0.80"/><circle cx="1715.1" cy="1206.1" r="2.2" fill-opacity="0.80"/><circle cx="1717.4" cy="1216.7" r="2.3" fill-opacity="0.80"/><circle cx="1720.2" cy="1227.9" r="2.4" fill-opacity="0.80"/><circle cx="1723.3" cy="1239.9" r="2.5" fill-opacity="0.80"/><circle cx="1726.1" cy="1252.8" r="2.6" fill-opacity="0.80"/><circle cx="1729.4" cy="1266.5" r="2.7" fill-opacity="0.80"/><circle cx="1733.0" cy="1281.1" r="2.9" fill-opacity="0.80"/><circle cx="1736.4" cy="1296.8" r="3.0" fill-opacity="0.80"/><circle cx="1740.3" cy="1313.5" r="3.1" fill-opacity="0.80"/><circle cx="1745.2" cy="1331.2" r="3.3" fill-opacity="0.80"/><circle cx="1751.4" cy="1349.8" r="3.4" fill-opacity="0.80"/><circle cx="1759.5" cy="1369.0" r="3.6" fill-opacity="0.80"/><circle cx="1771.1" cy="1387.9" r="3.8" fill-opacity="0.80"/><circle cx="1788.0" cy="1404.1" r="3.9" fill-opacity="0.80"/><circle cx="1807.9" cy="1418.7" r="4.0" fill-opacity="0.80"/><circle cx="1826.6" cy="1436.3" r="4.2" fill-opacity="0.80"/><circle cx="1843.3" cy="1457.4" r="4.4" fill-opacity="0.80"/><circle cx="1860.1" cy="1480.2" r="4.6" fill-opacity="0.80"/><circle cx="1875.6" cy="1506.0" r="4.8" fill-opacity="0.80"/><circle cx="1891.0" cy="1533.7" r="5.0" fill-opacity="0.80"/><circle cx="1900.3" cy="1566.1" r="5.3" fill-opacity="0.80"/><circle cx="1640.0" cy="1185.5" r="1.9" fill-opacity="0.50"/><circle cx="1649.0" cy="1186.8" r="1.9" fill-opacity="0.50"/><circle cx="1658.0" cy="1187.9" r="1.9" fill-opacity="0.50"/><circle cx="1667.0" cy="1188.9" r="1.9" fill-opacity="0.50"/><circle cx="1676.0" cy="1189.6" r="1.9" fill-opacity="0.50"/><circle cx="1685.0" cy="1190.0" r="1.9" fill-opacity="0.50"/><circle cx="1694.0" cy="1190.2" r="1.9" fill-opacity="0.50"/><circle cx="1703.0" cy="1190.0" r="1.9" fill-opacity="0.50"/><circle cx="1712.0" cy="1189.7" r="1.9" fill-opacity="0.50"/><circle cx="1721.0" cy="1189.1" r="1.9" fill-opacity="0.50"/><circle cx="1730.0" cy="1188.3" r="1.9" fill-opacity="0.50"/><circle cx="1739.0" cy="1187.4" r="1.9" fill-opacity="0.50"/><circle cx="1748.0" cy="1186.5" r="1.9" fill-opacity="0.50"/><circle cx="1757.0" cy="1185.6" r="1.9" fill-opacity="0.50"/><circle cx="1766.0" cy="1184.7" r="1.9" fill-opacity="0.50"/><circle cx="1775.0" cy="1184.1" r="1.9" fill-opacity="0.50"/><circle cx="1784.0" cy="1183.6" r="1.9" fill-opacity="0.50"/><circle cx="1793.0" cy="1183.4" r="1.9" fill-opacity="0.50"/><circle cx="1802.0" cy="1183.4" r="1.9" fill-opacity="0.50"/><circle cx="1811.0" cy="1183.8" r="1.9" fill-opacity="0.50"/><circle cx="1820.0" cy="1184.3" r="1.9" fill-opacity="0.50"/><circle cx="1829.0" cy="1185.1" r="1.9" fill-opacity="0.50"/><circle cx="1838.0" cy="1186.1" r="1.9" fill-opacity="0.50"/><circle cx="1847.0" cy="1187.3" r="1.9" fill-opacity="0.50"/><circle cx="1856.0" cy="1188.5" r="1.9" fill-opacity="0.50"/><circle cx="1865.0" cy="1189.7" r="1.9" fill-opacity="0.50"/><circle cx="1874.0" cy="1190.8" r="1.9" fill-opacity="0.50"/><circle cx="1883.0" cy="1191.8" r="1.9" fill-opacity="0.50"/><circle cx="1892.0" cy="1192.6" r="1.9" fill-opacity="0.50"/><circle cx="1901.0" cy="1193.2" r="1.9" fill-opacity="0.22"/><circle cx="1910.0" cy="1193.4" r="1.9" fill-opacity="0.22"/><circle cx="1919.0" cy="1193.4" r="1.9" fill-opacity="0.22"/><circle cx="1928.0" cy="1193.0" r="1.9" fill-opacity="0.22"/><circle cx="1937.0" cy="1192.3" r="1.9" fill-opacity="0.22"/><circle cx="1946.0" cy="1191.3" r="1.9" fill-opacity="0.22"/><circle cx="1955.0" cy="1190.2" r="1.9" fill-opacity="0.22"/><circle cx="1964.0" cy="1188.8" r="1.9" fill-opacity="0.22"/><circle cx="1973.0" cy="1187.3" r="1.9" fill-opacity="0.22"/><circle cx="1982.0" cy="1185.8" r="1.9" fill-opacity="0.22"/><circle cx="1991.0" cy="1184.4" r="1.9" fill-opacity="0.22"/><circle cx="2000.0" cy="1183.0" r="1.9" fill-opacity="0.22"/><circle cx="2009.0" cy="1181.9" r="1.9" fill-opacity="0.22"/><circle cx="2018.0" cy="1180.9" r="1.9" fill-opacity="0.22"/><circle cx="2027.0" cy="1180.3" r="1.9" fill-opacity="0.22"/><circle cx="2036.0" cy="1179.9" r="1.9" fill-opacity="0.22"/><circle cx="2045.0" cy="1179.8" r="1.9" fill-opacity="0.22"/><circle cx="2054.0" cy="1180.1" r="1.9" fill-opacity="0.22"/><circle cx="2063.0" cy="1180.6" r="1.9" fill-opacity="0.22"/><circle cx="2072.0" cy="1181.3" r="1.9" fill-opacity="0.22"/><circle cx="2081.0" cy="1182.2" r="1.9" fill-opacity="0.22"/><circle cx="2090.0" cy="1183.2" r="1.9" fill-opacity="0.22"/><circle cx="2099.0" cy="1184.3" r="1.9" fill-opacity="0.22"/><circle cx="2108.0" cy="1185.3" r="1.9" fill-opacity="0.22"/><circle cx="2117.0" cy="1186.2" r="1.9" fill-opacity="0.22"/><circle cx="2126.0" cy="1187.0" r="1.9" fill-opacity="0.22"/><circle cx="2135.0" cy="1187.6" r="1.9" fill-opacity="0.22"/><circle cx="2144.0" cy="1187.9" r="1.9" fill-opacity="0.22"/><circle cx="2153.0" cy="1188.0" r="1.9" fill-opacity="0.22"/><circle cx="2162.0" cy="1187.8" r="1.9" fill-opacity="0.22"/><circle cx="2171.0" cy="1187.4" r="1.9" fill-opacity="0.22"/><circle cx="2180.0" cy="1186.7" r="1.9" fill-opacity="0.22"/><circle cx="2189.0" cy="1185.9" r="1.9" fill-opacity="0.22"/><circle cx="2198.0" cy="1184.9" r="1.9" fill-opacity="0.22"/><circle cx="2207.0" cy="1183.9" r="1.9" fill-opacity="0.22"/><circle cx="2216.0" cy="1182.9" r="1.9" fill-opacity="0.22"/><circle cx="2225.0" cy="1182.0" r="1.9" fill-opacity="0.22"/><circle cx="2234.0" cy="1181.2" r="1.9" fill-opacity="0.22"/><circle cx="2243.0" cy="1180.6" r="1.9" fill-opacity="0.22"/><circle cx="2252.0" cy="1180.3" r="1.9" fill-opacity="0.22"/><circle cx="2261.0" cy="1180.2" r="1.9" fill-opacity="0.22"/><circle cx="2270.0" cy="1180.5" r="1.9" fill-opacity="0.22"/><circle cx="2279.0" cy="1181.0" r="1.9" fill-opacity="0.22"/><circle cx="2288.0" cy="1181.8" r="1.9" fill-opacity="0.22"/><circle cx="2297.0" cy="1182.9" r="1.9" fill-opacity="0.22"/><circle cx="2306.0" cy="1184.2" r="1.9" fill-opacity="0.22"/><circle cx="2315.0" cy="1185.6" r="1.9" fill-opacity="0.22"/><circle cx="2324.0" cy="1187.1" r="1.9" fill-opacity="0.22"/><circle cx="2333.0" cy="1188.6" r="1.9" fill-opacity="0.22"/><circle cx="2342.0" cy="1189.9" r="1.9" fill-opacity="0.22"/><circle cx="2351.0" cy="1191.2" r="1.9" fill-opacity="0.22"/><circle cx="2360.0" cy="1192.2" r="1.9" fill-opacity="0.22"/><circle cx="2369.0" cy="1193.0" r="1.9" fill-opacity="0.22"/><circle cx="2378.0" cy="1193.5" r="1.9" fill-opacity="0.22"/><circle cx="2387.0" cy="1193.6" r="1.9" fill-opacity="0.22"/><circle cx="2396.0" cy="1193.5" r="1.9" fill-opacity="0.22"/><circle cx="2405.0" cy="1193.0" r="1.9" fill-opacity="0.22"/><circle cx="2414.0" cy="1192.3" r="1.9" fill-opacity="0.22"/><circle cx="2423.0" cy="1191.3" r="1.9" fill-opacity="0.22"/><circle cx="2432.0" cy="1190.2" r="1.9" fill-opacity="0.22"/><circle cx="2441.0" cy="1189.0" r="1.9" fill-opacity="0.22"/><circle cx="2450.0" cy="1187.7" r="1.9" fill-opacity="0.22"/><circle cx="2459.0" cy="1186.5" r="1.9" fill-opacity="0.22"/><circle cx="2468.0" cy="1185.4" r="1.9" fill-opacity="0.22"/><circle cx="2477.0" cy="1184.5" r="1.9" fill-opacity="0.22"/><circle cx="2486.0" cy="1183.8" r="1.9" fill-opacity="0.22"/><circle cx="2495.0" cy="1183.3" r="1.9" fill-opacity="0.22"/><circle cx="2504.0" cy="1183.1" r="1.9" fill-opacity="0.22"/><circle cx="2513.0" cy="1183.2" r="1.9" fill-opacity="0.22"/><circle cx="2522.0" cy="1183.5" r="1.9" fill-opacity="0.22"/><circle cx="2531.0" cy="1184.1" r="1.9" fill-opacity="0.22"/><circle cx="2540.0" cy="1184.8" r="1.9" fill-opacity="0.22"/><circle cx="2549.0" cy="1185.7" r="1.9" fill-opacity="0.22"/><circle cx="2558.0" cy="1186.6" r="1.9" fill-opacity="0.22"/><circle cx="2567.0" cy="1187.5" r="1.9" fill-opacity="0.22"/><circle cx="2576.0" cy="1188.3" r="1.9" fill-opacity="0.22"/><circle cx="2585.0" cy="1189.0" r="1.9" fill-opacity="0.22"/><circle cx="2594.0" cy="1189.5" r="1.9" fill-opacity="0.22"/><circle cx="2603.0" cy="1189.8" r="1.9" fill-opacity="0.22"/><circle cx="2612.0" cy="1189.7" r="1.9" fill-opacity="0.22"/><circle cx="2621.0" cy="1189.4" r="1.9" fill-opacity="0.22"/><circle cx="2630.0" cy="1188.9" r="1.9" fill-opacity="0.22"/><circle cx="2639.0" cy="1188.0" r="1.9" fill-opacity="0.22"/><circle cx="2648.0" cy="1187.0" r="1.9" fill-opacity="0.22"/><circle cx="2657.0" cy="1185.8" r="1.9" fill-opacity="0.22"/><circle cx="2666.0" cy="1184.4" r="1.9" fill-opacity="0.22"/><circle cx="2675.0" cy="1183.1" r="1.9" fill-opacity="0.22"/><circle cx="2684.0" cy="1181.8" r="1.9" fill-opacity="0.22"/><circle cx="2693.0" cy="1180.6" r="1.9" fill-opacity="0.22"/><circle cx="2702.0" cy="1179.6" r="1.9" fill-opacity="0.22"/><circle cx="2711.0" cy="1178.8" r="1.9" fill-opacity="0.22"/><circle cx="2720.0" cy="1178.2" r="1.9" fill-opacity="0.22"/><circle cx="2729.0" cy="1178.0" r="1.9" fill-opacity="0.22"/><circle cx="2738.0" cy="1178.2" r="1.9" fill-opacity="0.22"/><circle cx="2747.0" cy="1178.6" r="1.9" fill-opacity="0.22"/><circle cx="2756.0" cy="1179.3" r="1.9" fill-opacity="0.22"/><circle cx="2765.0" cy="1180.3" r="1.9" fill-opacity="0.22"/><circle cx="2774.0" cy="1181.5" r="1.9" fill-opacity="0.22"/><circle cx="2783.0" cy="1182.9" r="1.9" fill-opacity="0.22"/><circle cx="2792.0" cy="1184.3" r="1.9" fill-opacity="0.22"/><circle cx="2801.0" cy="1185.7" r="1.9" fill-opacity="0.22"/><circle cx="2810.0" cy="1187.1" r="1.9" fill-opacity="0.22"/><circle cx="2819.0" cy="1188.3" r="1.9" fill-opacity="0.22"/><circle cx="2828.0" cy="1189.3" r="1.9" fill-opacity="0.22"/><circle cx="2837.0" cy="1190.1" r="1.9" fill-opacity="0.22"/><circle cx="2846.0" cy="1190.6" r="1.9" fill-opacity="0.22"/><circle cx="2855.0" cy="1190.8" r="1.9" fill-opacity="0.22"/><circle cx="2864.0" cy="1190.7" r="1.9" fill-opacity="0.22"/><circle cx="2873.0" cy="1190.4" r="1.9" fill-opacity="0.22"/><circle cx="2882.0" cy="1189.8" r="1.9" fill-opacity="0.22"/><circle cx="2891.0" cy="1189.0" r="1.9" fill-opacity="0.22"/><circle cx="2900.0" cy="1188.1" r="1.9" fill-opacity="0.22"/><circle cx="2909.0" cy="1187.2" r="1.9" fill-opacity="0.50"/><circle cx="2918.0" cy="1186.2" r="1.9" fill-opacity="0.50"/><circle cx="2927.0" cy="1185.4" r="1.9" fill-opacity="0.50"/><circle cx="2936.0" cy="1184.6" r="1.9" fill-opacity="0.50"/><circle cx="2945.0" cy="1184.1" r="1.9" fill-opacity="0.50"/><circle cx="2954.0" cy="1183.8" r="1.9" fill-opacity="0.50"/><circle cx="2963.0" cy="1183.7" r="1.9" fill-opacity="0.50"/><circle cx="2972.0" cy="1184.0" r="1.9" fill-opacity="0.50"/><circle cx="2981.0" cy="1184.4" r="1.9" fill-opacity="0.50"/><circle cx="2990.0" cy="1185.2" r="1.9" fill-opacity="0.50"/><circle cx="2999.0" cy="1186.1" r="1.9" fill-opacity="0.50"/><circle cx="3008.0" cy="1187.1" r="1.9" fill-opacity="0.50"/><circle cx="3017.0" cy="1188.3" r="1.9" fill-opacity="0.50"/><circle cx="3026.0" cy="1189.4" r="1.9" fill-opacity="0.50"/><circle cx="3035.0" cy="1190.5" r="1.9" fill-opacity="0.50"/><circle cx="3044.0" cy="1191.5" r="1.9" fill-opacity="0.50"/><circle cx="3053.0" cy="1192.2" r="1.9" fill-opacity="0.50"/><circle cx="3062.0" cy="1192.8" r="1.9" fill-opacity="0.50"/><circle cx="3071.0" cy="1193.0" r="1.9" fill-opacity="0.50"/><circle cx="3080.0" cy="1193.0" r="1.9" fill-opacity="0.50"/><circle cx="3089.0" cy="1192.6" r="1.9" fill-opacity="0.50"/><circle cx="3098.0" cy="1191.9" r="1.9" fill-opacity="0.50"/><circle cx="3107.0" cy="1191.0" r="1.9" fill-opacity="0.50"/><circle cx="3116.0" cy="1189.8" r="1.9" fill-opacity="0.50"/><circle cx="3125.0" cy="1188.4" r="1.9" fill-opacity="0.50"/><circle cx="3134.0" cy="1187.0" r="1.9" fill-opacity="0.50"/><circle cx="3143.0" cy="1185.4" r="1.9" fill-opacity="0.50"/><circle cx="3152.0" cy="1184.0" r="1.9" fill-opacity="0.50"/><circle cx="3161.0" cy="1182.6" r="1.9" fill-opacity="0.50"/><circle cx="3170.0" cy="1181.4" r="1.9" fill-opacity="0.50"/><circle cx="166.0" cy="1178.6" r="2.6" fill-opacity="0.80"/><circle cx="170.0" cy="1183.6" r="2.2" fill-opacity="0.60"/><circle cx="175.0" cy="1180.3" r="2.6" fill-opacity="0.80"/><circle cx="179.0" cy="1183.1" r="2.2" fill-opacity="0.60"/><circle cx="184.0" cy="1181.0" r="2.6" fill-opacity="0.80"/><circle cx="188.0" cy="1184.4" r="2.2" fill-opacity="0.60"/><circle cx="193.0" cy="1180.3" r="2.6" fill-opacity="0.80"/><circle cx="197.0" cy="1186.8" r="2.2" fill-opacity="0.60"/><circle cx="202.0" cy="1178.5" r="2.6" fill-opacity="0.80"/><circle cx="206.0" cy="1188.7" r="2.2" fill-opacity="0.60"/><circle cx="211.0" cy="1176.5" r="2.6" fill-opacity="0.80"/><circle cx="215.0" cy="1188.8" r="2.2" fill-opacity="0.60"/><circle cx="220.0" cy="1175.2" r="2.6" fill-opacity="0.80"/><circle cx="224.0" cy="1187.2" r="2.2" fill-opacity="0.60"/><circle cx="229.0" cy="1175.2" r="2.6" fill-opacity="0.80"/><circle cx="233.0" cy="1184.8" r="2.2" fill-opacity="0.60"/><circle cx="238.0" cy="1176.5" r="2.6" fill-opacity="0.80"/><circle cx="242.0" cy="1183.2" r="2.2" fill-opacity="0.60"/><circle cx="247.0" cy="1178.4" r="2.6" fill-opacity="0.80"/><circle cx="251.0" cy="1183.3" r="2.2" fill-opacity="0.60"/><circle cx="256.0" cy="1180.2" r="2.6" fill-opacity="0.80"/><circle cx="260.0" cy="1185.1" r="2.2" fill-opacity="0.60"/><circle cx="265.0" cy="1181.0" r="2.6" fill-opacity="0.80"/><circle cx="269.0" cy="1187.5" r="2.2" fill-opacity="0.18"/><circle cx="274.0" cy="1180.4" r="2.6" fill-opacity="0.24"/><circle cx="278.0" cy="1188.9" r="2.2" fill-opacity="0.18"/><circle cx="283.0" cy="1178.7" r="2.6" fill-opacity="0.24"/><circle cx="287.0" cy="1188.5" r="2.2" fill-opacity="0.18"/><circle cx="292.0" cy="1176.6" r="2.6" fill-opacity="0.24"/><circle cx="296.0" cy="1186.5" r="2.2" fill-opacity="0.18"/></g></svg><div class="abs" style="left:3108px;top:821px;width:80px;height:273px;background:#c4431f;border-radius:12px"></div><svg class="abs" style="left:3100px;top:820px" width="72" height="280"><text transform="translate(57.8,110.8) rotate(-90)" text-anchor="middle" font-family="Liberation Sans, sans-serif" font-size="32.5" fill="#ffffff">Feedback</text></svg><svg class="abs" style="left:3130px;top:1022px" width="36" height="34"><path d="M3,2 L27,2 Q32,2 32,7 L32,26 Q32,31 27,31 L8,31 Q3,31 3,26 L3,8 L0,2 Z" fill="#ffffff"/>
<path d="M10,17 Q17,25 25,17" fill="none" stroke="#c4431f" stroke-width="2.6"/><circle cx="11" cy="12" r="1.8" fill="#c4431f"/><circle cx="24" cy="12" r="1.8" fill="#c4431f"/></svg><div class="abs" style="left:208px;top:1892px;width:390px;height:80px;border:2px solid #23242b;border-radius:40px;background:#17181f"></div><div class="abs" style="left:228px;top:1904px;width:60px;height:60px;border-radius:50%;background:#23242b"></div></body></html>
